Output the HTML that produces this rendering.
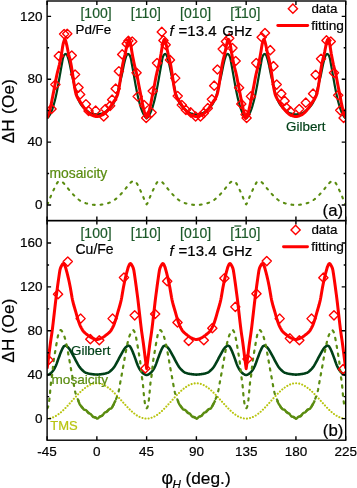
<!DOCTYPE html>
<html><head><meta charset="utf-8"><style>
html,body{margin:0;padding:0;background:#fff;width:357px;height:488px;overflow:hidden}
svg{display:block;font-family:"Liberation Sans",sans-serif;will-change:transform}
</style></head><body>
<svg width="357" height="488" viewBox="0 0 357 488">
<rect width="357" height="488" fill="#fff"/>
<defs><clipPath id="ct"><rect x="47.1" y="1.0" width="298.6" height="219.6"/></clipPath>
<clipPath id="cb"><rect x="47.1" y="220.6" width="298.6" height="219.6"/></clipPath></defs>
<g clip-path="url(#ct)" fill="none" stroke-linejoin="round">
<path d="M47.10,204.37 L47.65,203.69 L48.21,202.75 L48.76,201.43 L49.31,200.01 L49.86,198.57 L50.42,197.14 L50.97,195.77 L51.52,194.45 L52.08,193.19 L52.63,192.01 L53.18,190.85 L53.74,189.69 L54.29,188.53 L54.84,187.39 L55.39,186.24 L55.95,185.10 L56.50,184.09 L57.05,183.15 L57.61,182.30 L58.16,181.73 L58.71,181.39 L59.27,181.11 L59.82,180.96 L60.37,180.98 L60.92,181.15 L61.48,181.42 L62.03,181.73 L62.58,182.13 L63.14,182.66 L63.69,183.28 L64.24,183.93 L64.79,184.56 L65.35,185.19 L65.90,185.85 L66.45,186.53 L67.01,187.22 L67.56,187.92 L68.11,188.63 L68.67,189.33 L69.22,190.01 L69.77,190.68 L70.32,191.32 L70.88,191.95 L71.43,192.57 L71.98,193.19 L72.54,193.80 L73.09,194.40 L73.64,194.99 L74.20,195.56 L74.75,196.11 L75.30,196.64 L75.85,197.14 L76.41,197.63 L76.96,198.12 L77.51,198.61 L78.07,199.08 L78.62,199.54 L79.17,199.97 L79.72,200.38 L80.28,200.76 L80.83,201.09 L81.38,201.38 L81.94,201.65 L82.49,201.90 L83.04,202.15 L83.60,202.38 L84.15,202.60 L84.70,202.82 L85.25,203.02 L85.81,203.21 L86.36,203.38 L86.91,203.54 L87.47,203.69 L88.02,203.83 L88.57,203.95 L89.13,204.06 L89.68,204.16 L90.23,204.26 L90.78,204.35 L91.34,204.45 L91.89,204.54 L92.44,204.62 L93.00,204.70 L93.55,204.78 L94.10,204.84 L94.65,204.89 L95.21,204.94 L95.76,204.97 L96.31,204.99 L96.87,205.00 L97.42,204.99 L97.97,204.97 L98.53,204.94 L99.08,204.89 L99.63,204.84 L100.18,204.78 L100.74,204.70 L101.29,204.62 L101.84,204.54 L102.40,204.45 L102.95,204.35 L103.50,204.26 L104.06,204.16 L104.61,204.06 L105.16,203.95 L105.71,203.83 L106.27,203.69 L106.82,203.54 L107.37,203.38 L107.93,203.21 L108.48,203.02 L109.03,202.82 L109.58,202.60 L110.14,202.38 L110.69,202.15 L111.24,201.90 L111.80,201.65 L112.35,201.38 L112.90,201.09 L113.46,200.76 L114.01,200.38 L114.56,199.97 L115.11,199.54 L115.67,199.08 L116.22,198.61 L116.77,198.12 L117.33,197.63 L117.88,197.14 L118.43,196.64 L118.99,196.11 L119.54,195.56 L120.09,194.99 L120.64,194.40 L121.20,193.80 L121.75,193.19 L122.30,192.57 L122.86,191.95 L123.41,191.32 L123.96,190.68 L124.51,190.01 L125.07,189.33 L125.62,188.63 L126.17,187.92 L126.73,187.22 L127.28,186.53 L127.83,185.85 L128.39,185.19 L128.94,184.56 L129.49,183.93 L130.04,183.28 L130.60,182.66 L131.15,182.13 L131.70,181.73 L132.26,181.42 L132.81,181.15 L133.36,180.98 L133.92,180.96 L134.47,181.11 L135.02,181.39 L135.57,181.73 L136.13,182.30 L136.68,183.15 L137.23,184.09 L137.79,185.10 L138.34,186.24 L138.89,187.39 L139.44,188.53 L140.00,189.69 L140.55,190.85 L141.10,192.01 L141.66,193.19 L142.21,194.45 L142.76,195.77 L143.32,197.14 L143.87,198.57 L144.42,200.01 L144.97,201.43 L145.53,202.75 L146.08,203.69 L146.63,204.37 L147.19,203.69 L147.74,202.75 L148.29,201.43 L148.85,200.01 L149.40,198.57 L149.95,197.14 L150.50,195.77 L151.06,194.45 L151.61,193.19 L152.16,192.01 L152.72,190.85 L153.27,189.69 L153.82,188.53 L154.37,187.39 L154.93,186.24 L155.48,185.10 L156.03,184.09 L156.59,183.15 L157.14,182.30 L157.69,181.73 L158.25,181.39 L158.80,181.11 L159.35,180.96 L159.90,180.98 L160.46,181.15 L161.01,181.42 L161.56,181.73 L162.12,182.13 L162.67,182.66 L163.22,183.28 L163.78,183.93 L164.33,184.56 L164.88,185.19 L165.43,185.85 L165.99,186.53 L166.54,187.22 L167.09,187.92 L167.65,188.63 L168.20,189.33 L168.75,190.01 L169.30,190.68 L169.86,191.32 L170.41,191.95 L170.96,192.57 L171.52,193.19 L172.07,193.80 L172.62,194.40 L173.18,194.99 L173.73,195.56 L174.28,196.11 L174.83,196.64 L175.39,197.14 L175.94,197.63 L176.49,198.12 L177.05,198.61 L177.60,199.08 L178.15,199.54 L178.71,199.97 L179.26,200.38 L179.81,200.76 L180.36,201.09 L180.92,201.38 L181.47,201.65 L182.02,201.90 L182.58,202.15 L183.13,202.38 L183.68,202.60 L184.23,202.82 L184.79,203.02 L185.34,203.21 L185.89,203.38 L186.45,203.54 L187.00,203.69 L187.55,203.83 L188.11,203.95 L188.66,204.06 L189.21,204.16 L189.76,204.26 L190.32,204.35 L190.87,204.45 L191.42,204.54 L191.98,204.62 L192.53,204.70 L193.08,204.78 L193.64,204.84 L194.19,204.89 L194.74,204.94 L195.29,204.97 L195.85,204.99 L196.40,205.00 L196.95,204.99 L197.51,204.97 L198.06,204.94 L198.61,204.89 L199.16,204.84 L199.72,204.78 L200.27,204.70 L200.82,204.62 L201.38,204.54 L201.93,204.45 L202.48,204.35 L203.04,204.26 L203.59,204.16 L204.14,204.06 L204.69,203.95 L205.25,203.83 L205.80,203.69 L206.35,203.54 L206.91,203.38 L207.46,203.21 L208.01,203.02 L208.57,202.82 L209.12,202.60 L209.67,202.38 L210.22,202.15 L210.78,201.90 L211.33,201.65 L211.88,201.38 L212.44,201.09 L212.99,200.76 L213.54,200.38 L214.09,199.97 L214.65,199.54 L215.20,199.08 L215.75,198.61 L216.31,198.12 L216.86,197.63 L217.41,197.14 L217.97,196.64 L218.52,196.11 L219.07,195.56 L219.62,194.99 L220.18,194.40 L220.73,193.80 L221.28,193.19 L221.84,192.57 L222.39,191.95 L222.94,191.32 L223.50,190.68 L224.05,190.01 L224.60,189.33 L225.15,188.63 L225.71,187.92 L226.26,187.22 L226.81,186.53 L227.37,185.85 L227.92,185.19 L228.47,184.56 L229.02,183.93 L229.58,183.28 L230.13,182.66 L230.68,182.13 L231.24,181.73 L231.79,181.42 L232.34,181.15 L232.90,180.98 L233.45,180.96 L234.00,181.11 L234.55,181.39 L235.11,181.73 L235.66,182.30 L236.21,183.15 L236.77,184.09 L237.32,185.10 L237.87,186.24 L238.43,187.39 L238.98,188.53 L239.53,189.69 L240.08,190.85 L240.64,192.01 L241.19,193.19 L241.74,194.45 L242.30,195.77 L242.85,197.14 L243.40,198.57 L243.95,200.01 L244.51,201.43 L245.06,202.75 L245.61,203.69 L246.17,204.37 L246.72,203.69 L247.27,202.75 L247.83,201.43 L248.38,200.01 L248.93,198.57 L249.48,197.14 L250.04,195.77 L250.59,194.45 L251.14,193.19 L251.70,192.01 L252.25,190.85 L252.80,189.69 L253.36,188.53 L253.91,187.39 L254.46,186.24 L255.01,185.10 L255.57,184.09 L256.12,183.15 L256.67,182.30 L257.23,181.73 L257.78,181.39 L258.33,181.11 L258.88,180.96 L259.44,180.98 L259.99,181.15 L260.54,181.42 L261.10,181.73 L261.65,182.13 L262.20,182.66 L262.76,183.28 L263.31,183.93 L263.86,184.56 L264.41,185.19 L264.97,185.85 L265.52,186.53 L266.07,187.22 L266.63,187.92 L267.18,188.63 L267.73,189.33 L268.29,190.01 L268.84,190.68 L269.39,191.32 L269.94,191.95 L270.50,192.57 L271.05,193.19 L271.60,193.80 L272.16,194.40 L272.71,194.99 L273.26,195.56 L273.81,196.11 L274.37,196.64 L274.92,197.14 L275.47,197.63 L276.03,198.12 L276.58,198.61 L277.13,199.08 L277.69,199.54 L278.24,199.97 L278.79,200.38 L279.34,200.76 L279.90,201.09 L280.45,201.38 L281.00,201.65 L281.56,201.90 L282.11,202.15 L282.66,202.38 L283.22,202.60 L283.77,202.82 L284.32,203.02 L284.87,203.21 L285.43,203.38 L285.98,203.54 L286.53,203.69 L287.09,203.83 L287.64,203.95 L288.19,204.06 L288.74,204.16 L289.30,204.26 L289.85,204.35 L290.40,204.45 L290.96,204.54 L291.51,204.62 L292.06,204.70 L292.62,204.78 L293.17,204.84 L293.72,204.89 L294.27,204.94 L294.83,204.97 L295.38,204.99 L295.93,205.00 L296.49,204.99 L297.04,204.97 L297.59,204.94 L298.15,204.89 L298.70,204.84 L299.25,204.78 L299.80,204.70 L300.36,204.62 L300.91,204.54 L301.46,204.45 L302.02,204.35 L302.57,204.26 L303.12,204.16 L303.67,204.06 L304.23,203.95 L304.78,203.83 L305.33,203.69 L305.89,203.54 L306.44,203.38 L306.99,203.21 L307.55,203.02 L308.10,202.82 L308.65,202.60 L309.20,202.38 L309.76,202.15 L310.31,201.90 L310.86,201.65 L311.42,201.38 L311.97,201.09 L312.52,200.76 L313.08,200.38 L313.63,199.97 L314.18,199.54 L314.73,199.08 L315.29,198.61 L315.84,198.12 L316.39,197.63 L316.95,197.14 L317.50,196.64 L318.05,196.11 L318.60,195.56 L319.16,194.99 L319.71,194.40 L320.26,193.80 L320.82,193.19 L321.37,192.57 L321.92,191.95 L322.48,191.32 L323.03,190.68 L323.58,190.01 L324.13,189.33 L324.69,188.63 L325.24,187.92 L325.79,187.22 L326.35,186.53 L326.90,185.85 L327.45,185.19 L328.01,184.56 L328.56,183.93 L329.11,183.28 L329.66,182.66 L330.22,182.13 L330.77,181.73 L331.32,181.42 L331.88,181.15 L332.43,180.98 L332.98,180.96 L333.53,181.11 L334.09,181.39 L334.64,181.73 L335.19,182.30 L335.75,183.15 L336.30,184.09 L336.85,185.10 L337.41,186.24 L337.96,187.39 L338.51,188.53 L339.06,189.69 L339.62,190.85 L340.17,192.01 L340.72,193.19 L341.28,194.45 L341.83,195.77 L342.38,197.14 L342.94,198.57 L343.49,200.01 L344.04,201.43 L344.59,202.75 L345.15,203.69 L345.70,204.37" stroke="#5a8c10" stroke-width="2.1" stroke-linecap="round" stroke-dasharray="1.8 5.9"/>
<path d="M47.10,118.38 L47.65,117.88 L48.21,117.26 L48.76,116.54 L49.31,115.73 L49.86,114.84 L50.42,113.79 L50.97,112.60 L51.52,111.29 L52.08,109.89 L52.63,108.35 L53.18,106.64 L53.74,104.78 L54.29,102.81 L54.84,100.70 L55.39,98.39 L55.95,95.96 L56.50,93.41 L57.05,90.69 L57.61,87.85 L58.16,84.93 L58.71,81.89 L59.27,78.75 L59.82,75.61 L60.37,72.49 L60.92,69.35 L61.48,66.28 L62.03,63.23 L62.58,60.08 L63.14,57.58 L63.69,56.05 L64.24,54.98 L64.79,54.39 L65.35,54.00 L65.90,53.97 L66.45,54.44 L67.01,55.18 L67.56,56.37 L68.11,58.07 L68.67,59.95 L69.22,62.17 L69.77,64.59 L70.32,67.19 L70.88,70.04 L71.43,72.89 L71.98,75.48 L72.54,77.79 L73.09,79.97 L73.64,82.10 L74.20,84.29 L74.75,86.64 L75.30,89.16 L75.85,91.63 L76.41,93.84 L76.96,95.62 L77.51,97.22 L78.07,98.71 L78.62,100.08 L79.17,101.35 L79.72,102.49 L80.28,103.50 L80.83,104.39 L81.38,105.16 L81.94,105.87 L82.49,106.51 L83.04,107.10 L83.60,107.65 L84.15,108.17 L84.70,108.66 L85.25,109.14 L85.81,109.62 L86.36,110.10 L86.91,110.58 L87.47,111.04 L88.02,111.48 L88.57,111.90 L89.13,112.28 L89.68,112.63 L90.23,112.92 L90.78,113.17 L91.34,113.35 L91.89,113.50 L92.44,113.64 L93.00,113.77 L93.55,113.90 L94.10,114.01 L94.65,114.10 L95.21,114.18 L95.76,114.24 L96.31,114.28 L96.87,114.29 L97.42,114.28 L97.97,114.24 L98.53,114.18 L99.08,114.10 L99.63,114.01 L100.18,113.90 L100.74,113.77 L101.29,113.64 L101.84,113.50 L102.40,113.35 L102.95,113.17 L103.50,112.92 L104.06,112.63 L104.61,112.28 L105.16,111.90 L105.71,111.48 L106.27,111.04 L106.82,110.58 L107.37,110.10 L107.93,109.62 L108.48,109.14 L109.03,108.66 L109.58,108.17 L110.14,107.65 L110.69,107.10 L111.24,106.51 L111.80,105.87 L112.35,105.16 L112.90,104.39 L113.46,103.50 L114.01,102.49 L114.56,101.35 L115.11,100.08 L115.67,98.71 L116.22,97.22 L116.77,95.62 L117.33,93.84 L117.88,91.63 L118.43,89.16 L118.99,86.64 L119.54,84.29 L120.09,82.10 L120.64,79.97 L121.20,77.79 L121.75,75.48 L122.30,72.89 L122.86,70.04 L123.41,67.19 L123.96,64.59 L124.51,62.17 L125.07,59.95 L125.62,58.07 L126.17,56.37 L126.73,55.18 L127.28,54.44 L127.83,53.97 L128.39,54.00 L128.94,54.39 L129.49,54.98 L130.04,56.05 L130.60,57.58 L131.15,60.08 L131.70,63.23 L132.26,66.28 L132.81,69.35 L133.36,72.49 L133.92,75.61 L134.47,78.75 L135.02,81.89 L135.57,84.93 L136.13,87.85 L136.68,90.69 L137.23,93.41 L137.79,95.96 L138.34,98.39 L138.89,100.70 L139.44,102.81 L140.00,104.78 L140.55,106.64 L141.10,108.35 L141.66,109.89 L142.21,111.29 L142.76,112.60 L143.32,113.79 L143.87,114.84 L144.42,115.73 L144.97,116.54 L145.53,117.26 L146.08,117.88 L146.63,118.38 L147.19,117.88 L147.74,117.26 L148.29,116.54 L148.85,115.73 L149.40,114.84 L149.95,113.79 L150.50,112.60 L151.06,111.29 L151.61,109.89 L152.16,108.35 L152.72,106.64 L153.27,104.78 L153.82,102.81 L154.37,100.70 L154.93,98.39 L155.48,95.96 L156.03,93.41 L156.59,90.69 L157.14,87.85 L157.69,84.93 L158.25,81.89 L158.80,78.75 L159.35,75.61 L159.90,72.49 L160.46,69.35 L161.01,66.28 L161.56,63.23 L162.12,60.08 L162.67,57.58 L163.22,56.05 L163.78,54.98 L164.33,54.39 L164.88,54.00 L165.43,53.97 L165.99,54.44 L166.54,55.18 L167.09,56.37 L167.65,58.07 L168.20,59.95 L168.75,62.17 L169.30,64.59 L169.86,67.19 L170.41,70.04 L170.96,72.89 L171.52,75.48 L172.07,77.79 L172.62,79.97 L173.18,82.10 L173.73,84.29 L174.28,86.64 L174.83,89.16 L175.39,91.63 L175.94,93.84 L176.49,95.62 L177.05,97.22 L177.60,98.71 L178.15,100.08 L178.71,101.35 L179.26,102.49 L179.81,103.50 L180.36,104.39 L180.92,105.16 L181.47,105.87 L182.02,106.51 L182.58,107.10 L183.13,107.65 L183.68,108.17 L184.23,108.66 L184.79,109.14 L185.34,109.62 L185.89,110.10 L186.45,110.58 L187.00,111.04 L187.55,111.48 L188.11,111.90 L188.66,112.28 L189.21,112.63 L189.76,112.92 L190.32,113.17 L190.87,113.35 L191.42,113.50 L191.98,113.64 L192.53,113.77 L193.08,113.90 L193.64,114.01 L194.19,114.10 L194.74,114.18 L195.29,114.24 L195.85,114.28 L196.40,114.29 L196.95,114.28 L197.51,114.24 L198.06,114.18 L198.61,114.10 L199.16,114.01 L199.72,113.90 L200.27,113.77 L200.82,113.64 L201.38,113.50 L201.93,113.35 L202.48,113.17 L203.04,112.92 L203.59,112.63 L204.14,112.28 L204.69,111.90 L205.25,111.48 L205.80,111.04 L206.35,110.58 L206.91,110.10 L207.46,109.62 L208.01,109.14 L208.57,108.66 L209.12,108.17 L209.67,107.65 L210.22,107.10 L210.78,106.51 L211.33,105.87 L211.88,105.16 L212.44,104.39 L212.99,103.50 L213.54,102.49 L214.09,101.35 L214.65,100.08 L215.20,98.71 L215.75,97.22 L216.31,95.62 L216.86,93.84 L217.41,91.63 L217.97,89.16 L218.52,86.64 L219.07,84.29 L219.62,82.10 L220.18,79.97 L220.73,77.79 L221.28,75.48 L221.84,72.89 L222.39,70.04 L222.94,67.19 L223.50,64.59 L224.05,62.17 L224.60,59.95 L225.15,58.07 L225.71,56.37 L226.26,55.18 L226.81,54.44 L227.37,53.97 L227.92,54.00 L228.47,54.39 L229.02,54.98 L229.58,56.05 L230.13,57.58 L230.68,60.08 L231.24,63.23 L231.79,66.28 L232.34,69.35 L232.90,72.49 L233.45,75.61 L234.00,78.75 L234.55,81.89 L235.11,84.93 L235.66,87.85 L236.21,90.69 L236.77,93.41 L237.32,95.96 L237.87,98.39 L238.43,100.70 L238.98,102.81 L239.53,104.78 L240.08,106.64 L240.64,108.35 L241.19,109.89 L241.74,111.29 L242.30,112.60 L242.85,113.79 L243.40,114.84 L243.95,115.73 L244.51,116.54 L245.06,117.26 L245.61,117.88 L246.17,118.38 L246.72,117.88 L247.27,117.26 L247.83,116.54 L248.38,115.73 L248.93,114.84 L249.48,113.79 L250.04,112.60 L250.59,111.29 L251.14,109.89 L251.70,108.35 L252.25,106.64 L252.80,104.78 L253.36,102.81 L253.91,100.70 L254.46,98.39 L255.01,95.96 L255.57,93.41 L256.12,90.69 L256.67,87.85 L257.23,84.93 L257.78,81.89 L258.33,78.75 L258.88,75.61 L259.44,72.49 L259.99,69.35 L260.54,66.28 L261.10,63.23 L261.65,60.08 L262.20,57.58 L262.76,56.05 L263.31,54.98 L263.86,54.39 L264.41,54.00 L264.97,53.97 L265.52,54.44 L266.07,55.18 L266.63,56.37 L267.18,58.07 L267.73,59.95 L268.29,62.17 L268.84,64.59 L269.39,67.19 L269.94,70.04 L270.50,72.89 L271.05,75.48 L271.60,77.79 L272.16,79.97 L272.71,82.10 L273.26,84.29 L273.81,86.64 L274.37,89.16 L274.92,91.63 L275.47,93.84 L276.03,95.62 L276.58,97.22 L277.13,98.71 L277.69,100.08 L278.24,101.35 L278.79,102.49 L279.34,103.50 L279.90,104.39 L280.45,105.16 L281.00,105.87 L281.56,106.51 L282.11,107.10 L282.66,107.65 L283.22,108.17 L283.77,108.66 L284.32,109.14 L284.87,109.62 L285.43,110.10 L285.98,110.58 L286.53,111.04 L287.09,111.48 L287.64,111.90 L288.19,112.28 L288.74,112.63 L289.30,112.92 L289.85,113.17 L290.40,113.35 L290.96,113.50 L291.51,113.64 L292.06,113.77 L292.62,113.90 L293.17,114.01 L293.72,114.10 L294.27,114.18 L294.83,114.24 L295.38,114.28 L295.93,114.29 L296.49,114.28 L297.04,114.24 L297.59,114.18 L298.15,114.10 L298.70,114.01 L299.25,113.90 L299.80,113.77 L300.36,113.64 L300.91,113.50 L301.46,113.35 L302.02,113.17 L302.57,112.92 L303.12,112.63 L303.67,112.28 L304.23,111.90 L304.78,111.48 L305.33,111.04 L305.89,110.58 L306.44,110.10 L306.99,109.62 L307.55,109.14 L308.10,108.66 L308.65,108.17 L309.20,107.65 L309.76,107.10 L310.31,106.51 L310.86,105.87 L311.42,105.16 L311.97,104.39 L312.52,103.50 L313.08,102.49 L313.63,101.35 L314.18,100.08 L314.73,98.71 L315.29,97.22 L315.84,95.62 L316.39,93.84 L316.95,91.63 L317.50,89.16 L318.05,86.64 L318.60,84.29 L319.16,82.10 L319.71,79.97 L320.26,77.79 L320.82,75.48 L321.37,72.89 L321.92,70.04 L322.48,67.19 L323.03,64.59 L323.58,62.17 L324.13,59.95 L324.69,58.07 L325.24,56.37 L325.79,55.18 L326.35,54.44 L326.90,53.97 L327.45,54.00 L328.01,54.39 L328.56,54.98 L329.11,56.05 L329.66,57.58 L330.22,60.08 L330.77,63.23 L331.32,66.28 L331.88,69.35 L332.43,72.49 L332.98,75.61 L333.53,78.75 L334.09,81.89 L334.64,84.93 L335.19,87.85 L335.75,90.69 L336.30,93.41 L336.85,95.96 L337.41,98.39 L337.96,100.70 L338.51,102.81 L339.06,104.78 L339.62,106.64 L340.17,108.35 L340.72,109.89 L341.28,111.29 L341.83,112.60 L342.38,113.79 L342.94,114.84 L343.49,115.73 L344.04,116.54 L344.59,117.26 L345.15,117.88 L345.70,118.38" stroke="#004018" stroke-width="2.2"/>
<path d="M47.10,117.75 L47.65,116.62 L48.21,115.25 L48.76,113.70 L49.31,111.95 L49.86,109.89 L50.42,107.60 L50.97,105.17 L51.52,102.52 L52.08,99.63 L52.63,96.67 L53.18,93.84 L53.74,91.08 L54.29,88.33 L54.84,85.52 L55.39,82.56 L55.95,79.52 L56.50,76.60 L57.05,74.00 L57.61,71.71 L58.16,69.57 L58.71,67.42 L59.27,65.08 L59.82,62.53 L60.37,59.83 L60.92,57.01 L61.48,54.08 L62.03,50.69 L62.58,47.04 L63.14,43.96 L63.69,41.93 L64.24,40.24 L64.79,39.33 L65.35,39.88 L65.90,41.71 L66.45,43.86 L67.01,46.18 L67.56,48.93 L68.11,51.73 L68.67,54.26 L69.22,56.50 L69.77,58.67 L70.32,60.95 L70.88,63.51 L71.43,66.55 L71.98,69.97 L72.54,73.55 L73.09,77.24 L73.64,81.24 L74.20,85.01 L74.75,88.13 L75.30,91.03 L75.85,93.49 L76.41,95.25 L76.96,96.58 L77.51,97.71 L78.07,98.70 L78.62,99.58 L79.17,100.39 L79.72,101.17 L80.28,101.97 L80.83,102.81 L81.38,103.71 L81.94,104.61 L82.49,105.50 L83.04,106.36 L83.60,107.20 L84.15,107.98 L84.70,108.70 L85.25,109.36 L85.81,110.00 L86.36,110.63 L86.91,111.25 L87.47,111.85 L88.02,112.42 L88.57,112.96 L89.13,113.46 L89.68,113.91 L90.23,114.31 L90.78,114.65 L91.34,114.92 L91.89,115.16 L92.44,115.39 L93.00,115.61 L93.55,115.82 L94.10,116.00 L94.65,116.17 L95.21,116.30 L95.76,116.40 L96.31,116.47 L96.87,116.49 L97.42,116.47 L97.97,116.40 L98.53,116.30 L99.08,116.17 L99.63,116.00 L100.18,115.82 L100.74,115.61 L101.29,115.39 L101.84,115.16 L102.40,114.92 L102.95,114.65 L103.50,114.31 L104.06,113.91 L104.61,113.46 L105.16,112.96 L105.71,112.42 L106.27,111.85 L106.82,111.25 L107.37,110.63 L107.93,110.00 L108.48,109.36 L109.03,108.70 L109.58,107.98 L110.14,107.20 L110.69,106.36 L111.24,105.50 L111.80,104.61 L112.35,103.71 L112.90,102.81 L113.46,101.97 L114.01,101.17 L114.56,100.39 L115.11,99.58 L115.67,98.70 L116.22,97.71 L116.77,96.58 L117.33,95.25 L117.88,93.49 L118.43,91.03 L118.99,88.13 L119.54,85.01 L120.09,81.24 L120.64,77.24 L121.20,73.55 L121.75,69.97 L122.30,66.55 L122.86,63.51 L123.41,60.95 L123.96,58.67 L124.51,56.50 L125.07,54.26 L125.62,51.73 L126.17,48.93 L126.73,46.18 L127.28,43.86 L127.83,41.71 L128.39,39.88 L128.94,39.33 L129.49,40.24 L130.04,41.93 L130.60,43.96 L131.15,47.04 L131.70,50.69 L132.26,54.08 L132.81,57.01 L133.36,59.83 L133.92,62.53 L134.47,65.08 L135.02,67.42 L135.57,69.57 L136.13,71.71 L136.68,74.00 L137.23,76.60 L137.79,79.52 L138.34,82.56 L138.89,85.52 L139.44,88.33 L140.00,91.08 L140.55,93.84 L141.10,96.67 L141.66,99.63 L142.21,102.52 L142.76,105.17 L143.32,107.60 L143.87,109.89 L144.42,111.95 L144.97,113.70 L145.53,115.25 L146.08,116.62 L146.63,117.75 L147.19,116.62 L147.74,115.25 L148.29,113.70 L148.85,111.95 L149.40,109.89 L149.95,107.60 L150.50,105.17 L151.06,102.52 L151.61,99.63 L152.16,96.67 L152.72,93.84 L153.27,91.08 L153.82,88.33 L154.37,85.52 L154.93,82.56 L155.48,79.52 L156.03,76.60 L156.59,74.00 L157.14,71.71 L157.69,69.57 L158.25,67.42 L158.80,65.08 L159.35,62.53 L159.90,59.83 L160.46,57.01 L161.01,54.08 L161.56,50.69 L162.12,47.04 L162.67,43.96 L163.22,41.93 L163.78,40.24 L164.33,39.33 L164.88,39.88 L165.43,41.71 L165.99,43.86 L166.54,46.18 L167.09,48.93 L167.65,51.73 L168.20,54.26 L168.75,56.50 L169.30,58.67 L169.86,60.95 L170.41,63.51 L170.96,66.55 L171.52,69.97 L172.07,73.55 L172.62,77.24 L173.18,81.24 L173.73,85.01 L174.28,88.13 L174.83,91.03 L175.39,93.49 L175.94,95.25 L176.49,96.58 L177.05,97.71 L177.60,98.70 L178.15,99.58 L178.71,100.39 L179.26,101.17 L179.81,101.97 L180.36,102.81 L180.92,103.71 L181.47,104.61 L182.02,105.50 L182.58,106.36 L183.13,107.20 L183.68,107.98 L184.23,108.70 L184.79,109.36 L185.34,110.00 L185.89,110.63 L186.45,111.25 L187.00,111.85 L187.55,112.42 L188.11,112.96 L188.66,113.46 L189.21,113.91 L189.76,114.31 L190.32,114.65 L190.87,114.92 L191.42,115.16 L191.98,115.39 L192.53,115.61 L193.08,115.82 L193.64,116.00 L194.19,116.17 L194.74,116.30 L195.29,116.40 L195.85,116.47 L196.40,116.49 L196.95,116.47 L197.51,116.40 L198.06,116.30 L198.61,116.17 L199.16,116.00 L199.72,115.82 L200.27,115.61 L200.82,115.39 L201.38,115.16 L201.93,114.92 L202.48,114.65 L203.04,114.31 L203.59,113.91 L204.14,113.46 L204.69,112.96 L205.25,112.42 L205.80,111.85 L206.35,111.25 L206.91,110.63 L207.46,110.00 L208.01,109.36 L208.57,108.70 L209.12,107.98 L209.67,107.20 L210.22,106.36 L210.78,105.50 L211.33,104.61 L211.88,103.71 L212.44,102.81 L212.99,101.97 L213.54,101.17 L214.09,100.39 L214.65,99.58 L215.20,98.70 L215.75,97.71 L216.31,96.58 L216.86,95.25 L217.41,93.49 L217.97,91.03 L218.52,88.13 L219.07,85.01 L219.62,81.24 L220.18,77.24 L220.73,73.55 L221.28,69.97 L221.84,66.55 L222.39,63.51 L222.94,60.95 L223.50,58.67 L224.05,56.50 L224.60,54.26 L225.15,51.73 L225.71,48.93 L226.26,46.18 L226.81,43.86 L227.37,41.71 L227.92,39.88 L228.47,39.33 L229.02,40.24 L229.58,41.93 L230.13,43.96 L230.68,47.04 L231.24,50.69 L231.79,54.08 L232.34,57.01 L232.90,59.83 L233.45,62.53 L234.00,65.08 L234.55,67.42 L235.11,69.57 L235.66,71.71 L236.21,74.00 L236.77,76.60 L237.32,79.52 L237.87,82.56 L238.43,85.52 L238.98,88.33 L239.53,91.08 L240.08,93.84 L240.64,96.67 L241.19,99.63 L241.74,102.52 L242.30,105.17 L242.85,107.60 L243.40,109.89 L243.95,111.95 L244.51,113.70 L245.06,115.25 L245.61,116.62 L246.17,117.75 L246.72,116.62 L247.27,115.25 L247.83,113.70 L248.38,111.95 L248.93,109.89 L249.48,107.60 L250.04,105.17 L250.59,102.52 L251.14,99.63 L251.70,96.67 L252.25,93.84 L252.80,91.08 L253.36,88.33 L253.91,85.52 L254.46,82.56 L255.01,79.52 L255.57,76.60 L256.12,74.00 L256.67,71.71 L257.23,69.57 L257.78,67.42 L258.33,65.08 L258.88,62.53 L259.44,59.83 L259.99,57.01 L260.54,54.08 L261.10,50.69 L261.65,47.04 L262.20,43.96 L262.76,41.93 L263.31,40.24 L263.86,39.33 L264.41,39.88 L264.97,41.71 L265.52,43.86 L266.07,46.18 L266.63,48.93 L267.18,51.73 L267.73,54.26 L268.29,56.50 L268.84,58.67 L269.39,60.95 L269.94,63.51 L270.50,66.55 L271.05,69.97 L271.60,73.55 L272.16,77.24 L272.71,81.24 L273.26,85.01 L273.81,88.13 L274.37,91.03 L274.92,93.49 L275.47,95.25 L276.03,96.58 L276.58,97.71 L277.13,98.70 L277.69,99.58 L278.24,100.39 L278.79,101.17 L279.34,101.97 L279.90,102.81 L280.45,103.71 L281.00,104.61 L281.56,105.50 L282.11,106.36 L282.66,107.20 L283.22,107.98 L283.77,108.70 L284.32,109.36 L284.87,110.00 L285.43,110.63 L285.98,111.25 L286.53,111.85 L287.09,112.42 L287.64,112.96 L288.19,113.46 L288.74,113.91 L289.30,114.31 L289.85,114.65 L290.40,114.92 L290.96,115.16 L291.51,115.39 L292.06,115.61 L292.62,115.82 L293.17,116.00 L293.72,116.17 L294.27,116.30 L294.83,116.40 L295.38,116.47 L295.93,116.49 L296.49,116.47 L297.04,116.40 L297.59,116.30 L298.15,116.17 L298.70,116.00 L299.25,115.82 L299.80,115.61 L300.36,115.39 L300.91,115.16 L301.46,114.92 L302.02,114.65 L302.57,114.31 L303.12,113.91 L303.67,113.46 L304.23,112.96 L304.78,112.42 L305.33,111.85 L305.89,111.25 L306.44,110.63 L306.99,110.00 L307.55,109.36 L308.10,108.70 L308.65,107.98 L309.20,107.20 L309.76,106.36 L310.31,105.50 L310.86,104.61 L311.42,103.71 L311.97,102.81 L312.52,101.97 L313.08,101.17 L313.63,100.39 L314.18,99.58 L314.73,98.70 L315.29,97.71 L315.84,96.58 L316.39,95.25 L316.95,93.49 L317.50,91.03 L318.05,88.13 L318.60,85.01 L319.16,81.24 L319.71,77.24 L320.26,73.55 L320.82,69.97 L321.37,66.55 L321.92,63.51 L322.48,60.95 L323.03,58.67 L323.58,56.50 L324.13,54.26 L324.69,51.73 L325.24,48.93 L325.79,46.18 L326.35,43.86 L326.90,41.71 L327.45,39.88 L328.01,39.33 L328.56,40.24 L329.11,41.93 L329.66,43.96 L330.22,47.04 L330.77,50.69 L331.32,54.08 L331.88,57.01 L332.43,59.83 L332.98,62.53 L333.53,65.08 L334.09,67.42 L334.64,69.57 L335.19,71.71 L335.75,74.00 L336.30,76.60 L336.85,79.52 L337.41,82.56 L337.96,85.52 L338.51,88.33 L339.06,91.08 L339.62,93.84 L340.17,96.67 L340.72,99.63 L341.28,102.52 L341.83,105.17 L342.38,107.60 L342.94,109.89 L343.49,111.95 L344.04,113.70 L344.59,115.25 L345.15,116.62 L345.70,117.75" stroke="#ff0000" stroke-width="3"/>
<g stroke="#ff0000" stroke-width="1.4"><path d="M51.52 104.35L56.12 108.95L51.52 113.55L46.92 108.95Z"/>
<path d="M55.39 79.98L59.99 84.58L55.39 89.18L50.79 84.58Z"/>
<path d="M58.82 51.37L63.42 55.97L58.82 60.57L54.22 55.97Z"/>
<path d="M64.13 29.51L68.73 34.11L64.13 38.71L59.53 34.11Z"/>
<path d="M67.23 29.20L71.83 33.80L67.23 38.40L62.63 33.80Z"/>
<path d="M71.76 50.89L76.36 55.49L71.76 60.09L67.16 55.49Z"/>
<path d="M75.08 69.92L79.68 74.52L75.08 79.12L70.48 74.52Z"/>
<path d="M78.51 82.97L83.11 87.57L78.51 92.17L73.91 87.57Z"/>
<path d="M80.17 89.88L84.77 94.48L80.17 99.08L75.57 94.48Z"/>
<path d="M85.92 99.63L90.52 104.23L85.92 108.83L81.32 104.23Z"/>
<path d="M88.57 106.39L93.17 110.99L88.57 115.59L83.97 110.99Z"/>
<path d="M95.65 106.08L100.25 110.67L95.65 115.27L91.05 110.67Z"/>
<path d="M103.72 111.89L108.32 116.49L103.72 121.09L99.12 116.49Z"/>
<path d="M105.38 104.50L109.98 109.10L105.38 113.70L100.78 109.10Z"/>
<path d="M110.14 101.20L114.74 105.80L110.14 110.40L105.54 105.80Z"/>
<path d="M112.13 95.07L116.73 99.67L112.13 104.27L107.53 99.67Z"/>
<path d="M115.67 84.07L120.27 88.67L115.67 93.27L111.07 88.67Z"/>
<path d="M118.87 66.62L123.47 71.22L118.87 75.82L114.27 71.22Z"/>
<path d="M122.19 49.79L126.79 54.39L122.19 58.99L117.59 54.39Z"/>
<path d="M126.73 39.10L131.33 43.70L126.73 48.30L122.13 43.70Z"/>
<path d="M128.39 36.27L132.99 40.87L128.39 45.47L123.79 40.87Z"/>
<path d="M132.26 36.90L136.86 41.50L132.26 46.10L127.66 41.50Z"/>
<path d="M136.57 68.19L141.17 72.79L136.57 77.39L131.97 72.79Z"/>
<path d="M137.68 91.93L142.28 96.53L137.68 101.13L133.08 96.53Z"/>
<path d="M144.09 100.42L148.69 105.02L144.09 109.62L139.49 105.02Z"/>
<path d="M146.19 113.31L150.79 117.91L146.19 122.51L141.59 117.91Z"/>
<path d="M151.61 107.96L156.21 112.56L151.61 117.16L147.01 112.56Z"/>
<path d="M152.72 86.42L157.32 91.02L152.72 95.62L148.12 91.02Z"/>
<path d="M157.03 58.44L161.63 63.04L157.03 67.64L152.43 63.04Z"/>
<path d="M161.78 27.31L166.38 31.91L161.78 36.51L157.18 31.91Z"/>
<path d="M163.44 35.80L168.04 40.40L163.44 45.00L158.84 40.40Z"/>
<path d="M165.66 40.20L170.26 44.80L165.66 49.40L161.06 44.80Z"/>
<path d="M169.97 55.30L174.57 59.90L169.97 64.50L165.37 59.90Z"/>
<path d="M175.28 73.53L179.88 78.13L175.28 82.73L170.68 78.13Z"/>
<path d="M177.71 91.45L182.31 96.05L177.71 100.65L173.11 96.05Z"/>
<path d="M181.80 100.42L186.40 105.02L181.80 109.62L177.20 105.02Z"/>
<path d="M185.89 105.29L190.49 109.89L185.89 114.49L181.29 109.89Z"/>
<path d="M190.65 107.80L195.25 112.40L190.65 117.00L186.05 112.40Z"/>
<path d="M195.63 111.89L200.23 116.49L195.63 121.09L191.03 116.49Z"/>
<path d="M200.49 111.89L205.09 116.49L200.49 121.09L195.89 116.49Z"/>
<path d="M203.70 108.59L208.30 113.19L203.70 117.79L199.10 113.19Z"/>
<path d="M207.79 103.56L212.39 108.16L207.79 112.76L203.19 108.16Z"/>
<path d="M211.88 94.76L216.48 99.36L211.88 103.96L207.28 99.36Z"/>
<path d="M214.21 81.08L218.81 85.68L214.21 90.28L209.61 85.68Z"/>
<path d="M217.41 64.89L222.01 69.49L217.41 74.09L212.81 69.49Z"/>
<path d="M222.72 44.45L227.32 49.05L222.72 53.65L218.12 49.05Z"/>
<path d="M225.93 36.90L230.53 41.50L225.93 46.10L221.33 41.50Z"/>
<path d="M229.25 33.76L233.85 38.36L229.25 42.96L224.65 38.36Z"/>
<path d="M232.45 43.51L237.05 48.11L232.45 52.71L227.85 48.11Z"/>
<path d="M235.66 56.40L240.26 61.00L235.66 65.60L231.06 61.00Z"/>
<path d="M239.09 83.12L243.69 87.72L239.09 92.32L234.49 87.72Z"/>
<path d="M241.30 99.32L245.90 103.92L241.30 108.52L236.70 103.92Z"/>
<path d="M245.61 110.01L250.21 114.61L245.61 119.21L241.01 114.61Z"/>
<path d="M246.61 113.31L251.21 117.91L246.61 122.51L242.01 117.91Z"/>
<path d="M250.92 91.77L255.52 96.37L250.92 100.97L246.32 96.37Z"/>
<path d="M256.23 58.44L260.83 63.04L256.23 67.64L251.63 63.04Z"/>
<path d="M261.65 32.66L266.25 37.26L261.65 41.86L257.05 37.26Z"/>
<path d="M264.97 28.41L269.57 33.01L264.97 37.61L260.37 33.01Z"/>
<path d="M270.28 45.55L274.88 50.15L270.28 54.75L265.68 50.15Z"/>
<path d="M273.48 61.59L278.08 66.19L273.48 70.79L268.88 66.19Z"/>
<path d="M276.69 79.98L281.29 84.58L276.69 89.18L272.09 84.58Z"/>
<path d="M281.34 89.10L285.94 93.70L281.34 98.30L276.74 93.70Z"/>
<path d="M284.65 96.33L289.25 100.93L284.65 105.53L280.05 100.93Z"/>
<path d="M286.31 102.93L290.91 107.53L286.31 112.13L281.71 107.53Z"/>
<path d="M290.40 106.86L295.00 111.46L290.40 116.06L285.80 111.46Z"/>
<path d="M299.25 104.50L303.85 109.10L299.25 113.70L294.65 109.10Z"/>
<path d="M305.78 98.06L310.38 102.66L305.78 107.26L301.18 102.66Z"/>
<path d="M313.08 89.10L317.68 93.70L313.08 98.30L308.48 93.70Z"/>
<path d="M315.62 70.23L320.22 74.83L315.62 79.43L311.02 74.83Z"/>
<path d="M321.04 54.20L325.64 58.80L321.04 63.40L316.44 58.80Z"/>
<path d="M326.46 35.80L331.06 40.40L326.46 45.00L321.86 40.40Z"/>
<path d="M330.77 36.90L335.37 41.50L330.77 46.10L326.17 41.50Z"/>
<path d="M333.98 68.19L338.58 72.79L333.98 77.39L329.38 72.79Z"/>
<path d="M338.18 90.67L342.78 95.27L338.18 99.87L333.58 95.27Z"/>
<path d="M340.28 105.76L344.88 110.36L340.28 114.96L335.68 110.36Z"/>
<path d="M343.60 113.31L348.20 117.91L343.60 122.51L339.00 117.91Z"/></g>
</g>
<g clip-path="url(#cb)" fill="none" stroke-linejoin="round">
<path d="M47.10,418.60 L47.65,418.59 L48.21,418.56 L48.76,418.50 L49.31,418.43 L49.86,418.33 L50.42,418.21 L50.97,418.08 L51.52,417.92 L52.08,417.74 L52.63,417.53 L53.18,417.31 L53.74,417.07 L54.29,416.81 L54.84,416.53 L55.39,416.23 L55.95,415.92 L56.50,415.58 L57.05,415.23 L57.61,414.85 L58.16,414.47 L58.71,414.06 L59.27,413.64 L59.82,413.20 L60.37,412.75 L60.92,412.29 L61.48,411.81 L62.03,411.32 L62.58,410.81 L63.14,410.29 L63.69,409.77 L64.24,409.23 L64.79,408.68 L65.35,408.12 L65.90,407.55 L66.45,406.97 L67.01,406.39 L67.56,405.80 L68.11,405.20 L68.67,404.60 L69.22,404.00 L69.77,403.39 L70.32,402.78 L70.88,402.16 L71.43,401.55 L71.98,400.93 L72.54,400.31 L73.09,399.70 L73.64,399.08 L74.20,398.47 L74.75,397.86 L75.30,397.26 L75.85,396.66 L76.41,396.06 L76.96,395.47 L77.51,394.89 L78.07,394.31 L78.62,393.74 L79.17,393.18 L79.72,392.63 L80.28,392.10 L80.83,391.57 L81.38,391.05 L81.94,390.54 L82.49,390.05 L83.04,389.57 L83.60,389.11 L84.15,388.66 L84.70,388.22 L85.25,387.80 L85.81,387.39 L86.36,387.01 L86.91,386.64 L87.47,386.28 L88.02,385.95 L88.57,385.63 L89.13,385.33 L89.68,385.05 L90.23,384.79 L90.78,384.55 L91.34,384.33 L91.89,384.13 L92.44,383.94 L93.00,383.79 L93.55,383.65 L94.10,383.53 L94.65,383.43 L95.21,383.36 L95.76,383.30 L96.31,383.27 L96.87,383.26 L97.42,383.27 L97.97,383.30 L98.53,383.36 L99.08,383.43 L99.63,383.53 L100.18,383.65 L100.74,383.79 L101.29,383.94 L101.84,384.13 L102.40,384.33 L102.95,384.55 L103.50,384.79 L104.06,385.05 L104.61,385.33 L105.16,385.63 L105.71,385.95 L106.27,386.28 L106.82,386.64 L107.37,387.01 L107.93,387.39 L108.48,387.80 L109.03,388.22 L109.58,388.66 L110.14,389.11 L110.69,389.57 L111.24,390.05 L111.80,390.54 L112.35,391.05 L112.90,391.57 L113.46,392.10 L114.01,392.63 L114.56,393.18 L115.11,393.74 L115.67,394.31 L116.22,394.89 L116.77,395.47 L117.33,396.06 L117.88,396.66 L118.43,397.26 L118.99,397.86 L119.54,398.47 L120.09,399.08 L120.64,399.70 L121.20,400.31 L121.75,400.93 L122.30,401.55 L122.86,402.16 L123.41,402.78 L123.96,403.39 L124.51,404.00 L125.07,404.60 L125.62,405.20 L126.17,405.80 L126.73,406.39 L127.28,406.97 L127.83,407.55 L128.39,408.12 L128.94,408.68 L129.49,409.23 L130.04,409.77 L130.60,410.29 L131.15,410.81 L131.70,411.32 L132.26,411.81 L132.81,412.29 L133.36,412.75 L133.92,413.20 L134.47,413.64 L135.02,414.06 L135.57,414.47 L136.13,414.85 L136.68,415.23 L137.23,415.58 L137.79,415.92 L138.34,416.23 L138.89,416.53 L139.44,416.81 L140.00,417.07 L140.55,417.31 L141.10,417.53 L141.66,417.74 L142.21,417.92 L142.76,418.08 L143.32,418.21 L143.87,418.33 L144.42,418.43 L144.97,418.50 L145.53,418.56 L146.08,418.59 L146.63,418.60 L147.19,418.59 L147.74,418.56 L148.29,418.50 L148.85,418.43 L149.40,418.33 L149.95,418.21 L150.50,418.08 L151.06,417.92 L151.61,417.74 L152.16,417.53 L152.72,417.31 L153.27,417.07 L153.82,416.81 L154.37,416.53 L154.93,416.23 L155.48,415.92 L156.03,415.58 L156.59,415.23 L157.14,414.85 L157.69,414.47 L158.25,414.06 L158.80,413.64 L159.35,413.20 L159.90,412.75 L160.46,412.29 L161.01,411.81 L161.56,411.32 L162.12,410.81 L162.67,410.29 L163.22,409.77 L163.78,409.23 L164.33,408.68 L164.88,408.12 L165.43,407.55 L165.99,406.97 L166.54,406.39 L167.09,405.80 L167.65,405.20 L168.20,404.60 L168.75,404.00 L169.30,403.39 L169.86,402.78 L170.41,402.16 L170.96,401.55 L171.52,400.93 L172.07,400.31 L172.62,399.70 L173.18,399.08 L173.73,398.47 L174.28,397.86 L174.83,397.26 L175.39,396.66 L175.94,396.06 L176.49,395.47 L177.05,394.89 L177.60,394.31 L178.15,393.74 L178.71,393.18 L179.26,392.63 L179.81,392.10 L180.36,391.57 L180.92,391.05 L181.47,390.54 L182.02,390.05 L182.58,389.57 L183.13,389.11 L183.68,388.66 L184.23,388.22 L184.79,387.80 L185.34,387.39 L185.89,387.01 L186.45,386.64 L187.00,386.28 L187.55,385.95 L188.11,385.63 L188.66,385.33 L189.21,385.05 L189.76,384.79 L190.32,384.55 L190.87,384.33 L191.42,384.13 L191.98,383.94 L192.53,383.79 L193.08,383.65 L193.64,383.53 L194.19,383.43 L194.74,383.36 L195.29,383.30 L195.85,383.27 L196.40,383.26 L196.95,383.27 L197.51,383.30 L198.06,383.36 L198.61,383.43 L199.16,383.53 L199.72,383.65 L200.27,383.79 L200.82,383.94 L201.38,384.13 L201.93,384.33 L202.48,384.55 L203.04,384.79 L203.59,385.05 L204.14,385.33 L204.69,385.63 L205.25,385.95 L205.80,386.28 L206.35,386.64 L206.91,387.01 L207.46,387.39 L208.01,387.80 L208.57,388.22 L209.12,388.66 L209.67,389.11 L210.22,389.57 L210.78,390.05 L211.33,390.54 L211.88,391.05 L212.44,391.57 L212.99,392.10 L213.54,392.63 L214.09,393.18 L214.65,393.74 L215.20,394.31 L215.75,394.89 L216.31,395.47 L216.86,396.06 L217.41,396.66 L217.97,397.26 L218.52,397.86 L219.07,398.47 L219.62,399.08 L220.18,399.70 L220.73,400.31 L221.28,400.93 L221.84,401.55 L222.39,402.16 L222.94,402.78 L223.50,403.39 L224.05,404.00 L224.60,404.60 L225.15,405.20 L225.71,405.80 L226.26,406.39 L226.81,406.97 L227.37,407.55 L227.92,408.12 L228.47,408.68 L229.02,409.23 L229.58,409.77 L230.13,410.29 L230.68,410.81 L231.24,411.32 L231.79,411.81 L232.34,412.29 L232.90,412.75 L233.45,413.20 L234.00,413.64 L234.55,414.06 L235.11,414.47 L235.66,414.85 L236.21,415.23 L236.77,415.58 L237.32,415.92 L237.87,416.23 L238.43,416.53 L238.98,416.81 L239.53,417.07 L240.08,417.31 L240.64,417.53 L241.19,417.74 L241.74,417.92 L242.30,418.08 L242.85,418.21 L243.40,418.33 L243.95,418.43 L244.51,418.50 L245.06,418.56 L245.61,418.59 L246.17,418.60 L246.72,418.59 L247.27,418.56 L247.83,418.50 L248.38,418.43 L248.93,418.33 L249.48,418.21 L250.04,418.08 L250.59,417.92 L251.14,417.74 L251.70,417.53 L252.25,417.31 L252.80,417.07 L253.36,416.81 L253.91,416.53 L254.46,416.23 L255.01,415.92 L255.57,415.58 L256.12,415.23 L256.67,414.85 L257.23,414.47 L257.78,414.06 L258.33,413.64 L258.88,413.20 L259.44,412.75 L259.99,412.29 L260.54,411.81 L261.10,411.32 L261.65,410.81 L262.20,410.29 L262.76,409.77 L263.31,409.23 L263.86,408.68 L264.41,408.12 L264.97,407.55 L265.52,406.97 L266.07,406.39 L266.63,405.80 L267.18,405.20 L267.73,404.60 L268.29,404.00 L268.84,403.39 L269.39,402.78 L269.94,402.16 L270.50,401.55 L271.05,400.93 L271.60,400.31 L272.16,399.70 L272.71,399.08 L273.26,398.47 L273.81,397.86 L274.37,397.26 L274.92,396.66 L275.47,396.06 L276.03,395.47 L276.58,394.89 L277.13,394.31 L277.69,393.74 L278.24,393.18 L278.79,392.63 L279.34,392.10 L279.90,391.57 L280.45,391.05 L281.00,390.54 L281.56,390.05 L282.11,389.57 L282.66,389.11 L283.22,388.66 L283.77,388.22 L284.32,387.80 L284.87,387.39 L285.43,387.01 L285.98,386.64 L286.53,386.28 L287.09,385.95 L287.64,385.63 L288.19,385.33 L288.74,385.05 L289.30,384.79 L289.85,384.55 L290.40,384.33 L290.96,384.13 L291.51,383.94 L292.06,383.79 L292.62,383.65 L293.17,383.53 L293.72,383.43 L294.27,383.36 L294.83,383.30 L295.38,383.27 L295.93,383.26 L296.49,383.27 L297.04,383.30 L297.59,383.36 L298.15,383.43 L298.70,383.53 L299.25,383.65 L299.80,383.79 L300.36,383.94 L300.91,384.13 L301.46,384.33 L302.02,384.55 L302.57,384.79 L303.12,385.05 L303.67,385.33 L304.23,385.63 L304.78,385.95 L305.33,386.28 L305.89,386.64 L306.44,387.01 L306.99,387.39 L307.55,387.80 L308.10,388.22 L308.65,388.66 L309.20,389.11 L309.76,389.57 L310.31,390.05 L310.86,390.54 L311.42,391.05 L311.97,391.57 L312.52,392.10 L313.08,392.63 L313.63,393.18 L314.18,393.74 L314.73,394.31 L315.29,394.89 L315.84,395.47 L316.39,396.06 L316.95,396.66 L317.50,397.26 L318.05,397.86 L318.60,398.47 L319.16,399.08 L319.71,399.70 L320.26,400.31 L320.82,400.93 L321.37,401.55 L321.92,402.16 L322.48,402.78 L323.03,403.39 L323.58,404.00 L324.13,404.60 L324.69,405.20 L325.24,405.80 L325.79,406.39 L326.35,406.97 L326.90,407.55 L327.45,408.12 L328.01,408.68 L328.56,409.23 L329.11,409.77 L329.66,410.29 L330.22,410.81 L330.77,411.32 L331.32,411.81 L331.88,412.29 L332.43,412.75 L332.98,413.20 L333.53,413.64 L334.09,414.06 L334.64,414.47 L335.19,414.85 L335.75,415.23 L336.30,415.58 L336.85,415.92 L337.41,416.23 L337.96,416.53 L338.51,416.81 L339.06,417.07 L339.62,417.31 L340.17,417.53 L340.72,417.74 L341.28,417.92 L341.83,418.08 L342.38,418.21 L342.94,418.33 L343.49,418.43 L344.04,418.50 L344.59,418.56 L345.15,418.59 L345.70,418.60" stroke="#b8c410" stroke-width="2.1" stroke-linecap="round" stroke-dasharray="0.01 3.1"/>
<path d="M47.10,375.03 L47.65,374.89 L48.21,374.70 L48.76,374.46 L49.31,374.16 L49.86,373.82 L50.42,373.43 L50.97,372.98 L51.52,372.46 L52.08,371.89 L52.63,371.25 L53.18,370.52 L53.74,369.69 L54.29,368.77 L54.84,367.76 L55.39,366.69 L55.95,365.50 L56.50,364.11 L57.05,362.58 L57.61,360.99 L58.16,359.41 L58.71,357.91 L59.27,356.43 L59.82,354.92 L60.37,353.42 L60.92,352.00 L61.48,350.70 L62.03,349.56 L62.58,348.42 L63.14,347.37 L63.69,346.56 L64.24,346.10 L64.79,345.83 L65.35,345.65 L65.90,345.65 L66.45,345.96 L67.01,346.42 L67.56,346.89 L68.11,347.45 L68.67,348.10 L69.22,348.80 L69.77,349.57 L70.32,350.44 L70.88,351.37 L71.43,352.34 L71.98,353.35 L72.54,354.35 L73.09,355.34 L73.64,356.36 L74.20,357.41 L74.75,358.47 L75.30,359.53 L75.85,360.57 L76.41,361.60 L76.96,362.64 L77.51,363.68 L78.07,364.67 L78.62,365.59 L79.17,366.40 L79.72,367.17 L80.28,367.89 L80.83,368.57 L81.38,369.19 L81.94,369.76 L82.49,370.30 L83.04,370.83 L83.60,371.33 L84.15,371.78 L84.70,372.16 L85.25,372.46 L85.81,372.68 L86.36,372.88 L86.91,373.07 L87.47,373.23 L88.02,373.39 L88.57,373.53 L89.13,373.65 L89.68,373.76 L90.23,373.87 L90.78,373.96 L91.34,374.04 L91.89,374.12 L92.44,374.20 L93.00,374.28 L93.55,374.35 L94.10,374.41 L94.65,374.47 L95.21,374.52 L95.76,374.56 L96.31,374.58 L96.87,374.59 L97.42,374.58 L97.97,374.56 L98.53,374.52 L99.08,374.47 L99.63,374.41 L100.18,374.35 L100.74,374.28 L101.29,374.20 L101.84,374.12 L102.40,374.04 L102.95,373.96 L103.50,373.87 L104.06,373.76 L104.61,373.65 L105.16,373.53 L105.71,373.39 L106.27,373.23 L106.82,373.07 L107.37,372.88 L107.93,372.68 L108.48,372.46 L109.03,372.16 L109.58,371.78 L110.14,371.33 L110.69,370.83 L111.24,370.30 L111.80,369.76 L112.35,369.19 L112.90,368.57 L113.46,367.89 L114.01,367.17 L114.56,366.40 L115.11,365.59 L115.67,364.67 L116.22,363.68 L116.77,362.64 L117.33,361.60 L117.88,360.57 L118.43,359.53 L118.99,358.47 L119.54,357.41 L120.09,356.36 L120.64,355.34 L121.20,354.35 L121.75,353.35 L122.30,352.34 L122.86,351.37 L123.41,350.44 L123.96,349.57 L124.51,348.80 L125.07,348.10 L125.62,347.45 L126.17,346.89 L126.73,346.42 L127.28,345.96 L127.83,345.65 L128.39,345.65 L128.94,345.83 L129.49,346.10 L130.04,346.56 L130.60,347.37 L131.15,348.42 L131.70,349.56 L132.26,350.70 L132.81,352.00 L133.36,353.42 L133.92,354.92 L134.47,356.43 L135.02,357.91 L135.57,359.41 L136.13,360.99 L136.68,362.58 L137.23,364.11 L137.79,365.50 L138.34,366.69 L138.89,367.76 L139.44,368.77 L140.00,369.69 L140.55,370.52 L141.10,371.25 L141.66,371.89 L142.21,372.46 L142.76,372.98 L143.32,373.43 L143.87,373.82 L144.42,374.16 L144.97,374.46 L145.53,374.70 L146.08,374.89 L146.63,375.03 L147.19,374.89 L147.74,374.70 L148.29,374.46 L148.85,374.16 L149.40,373.82 L149.95,373.43 L150.50,372.98 L151.06,372.46 L151.61,371.89 L152.16,371.25 L152.72,370.52 L153.27,369.69 L153.82,368.77 L154.37,367.76 L154.93,366.69 L155.48,365.50 L156.03,364.11 L156.59,362.58 L157.14,360.99 L157.69,359.41 L158.25,357.91 L158.80,356.43 L159.35,354.92 L159.90,353.42 L160.46,352.00 L161.01,350.70 L161.56,349.56 L162.12,348.42 L162.67,347.37 L163.22,346.56 L163.78,346.10 L164.33,345.83 L164.88,345.65 L165.43,345.65 L165.99,345.96 L166.54,346.42 L167.09,346.89 L167.65,347.45 L168.20,348.10 L168.75,348.80 L169.30,349.57 L169.86,350.44 L170.41,351.37 L170.96,352.34 L171.52,353.35 L172.07,354.35 L172.62,355.34 L173.18,356.36 L173.73,357.41 L174.28,358.47 L174.83,359.53 L175.39,360.57 L175.94,361.60 L176.49,362.64 L177.05,363.68 L177.60,364.67 L178.15,365.59 L178.71,366.40 L179.26,367.17 L179.81,367.89 L180.36,368.57 L180.92,369.19 L181.47,369.76 L182.02,370.30 L182.58,370.83 L183.13,371.33 L183.68,371.78 L184.23,372.16 L184.79,372.46 L185.34,372.68 L185.89,372.88 L186.45,373.07 L187.00,373.23 L187.55,373.39 L188.11,373.53 L188.66,373.65 L189.21,373.76 L189.76,373.87 L190.32,373.96 L190.87,374.04 L191.42,374.12 L191.98,374.20 L192.53,374.28 L193.08,374.35 L193.64,374.41 L194.19,374.47 L194.74,374.52 L195.29,374.56 L195.85,374.58 L196.40,374.59 L196.95,374.58 L197.51,374.56 L198.06,374.52 L198.61,374.47 L199.16,374.41 L199.72,374.35 L200.27,374.28 L200.82,374.20 L201.38,374.12 L201.93,374.04 L202.48,373.96 L203.04,373.87 L203.59,373.76 L204.14,373.65 L204.69,373.53 L205.25,373.39 L205.80,373.23 L206.35,373.07 L206.91,372.88 L207.46,372.68 L208.01,372.46 L208.57,372.16 L209.12,371.78 L209.67,371.33 L210.22,370.83 L210.78,370.30 L211.33,369.76 L211.88,369.19 L212.44,368.57 L212.99,367.89 L213.54,367.17 L214.09,366.40 L214.65,365.59 L215.20,364.67 L215.75,363.68 L216.31,362.64 L216.86,361.60 L217.41,360.57 L217.97,359.53 L218.52,358.47 L219.07,357.41 L219.62,356.36 L220.18,355.34 L220.73,354.35 L221.28,353.35 L221.84,352.34 L222.39,351.37 L222.94,350.44 L223.50,349.57 L224.05,348.80 L224.60,348.10 L225.15,347.45 L225.71,346.89 L226.26,346.42 L226.81,345.96 L227.37,345.65 L227.92,345.65 L228.47,345.83 L229.02,346.10 L229.58,346.56 L230.13,347.37 L230.68,348.42 L231.24,349.56 L231.79,350.70 L232.34,352.00 L232.90,353.42 L233.45,354.92 L234.00,356.43 L234.55,357.91 L235.11,359.41 L235.66,360.99 L236.21,362.58 L236.77,364.11 L237.32,365.50 L237.87,366.69 L238.43,367.76 L238.98,368.77 L239.53,369.69 L240.08,370.52 L240.64,371.25 L241.19,371.89 L241.74,372.46 L242.30,372.98 L242.85,373.43 L243.40,373.82 L243.95,374.16 L244.51,374.46 L245.06,374.70 L245.61,374.89 L246.17,375.03 L246.72,374.89 L247.27,374.70 L247.83,374.46 L248.38,374.16 L248.93,373.82 L249.48,373.43 L250.04,372.98 L250.59,372.46 L251.14,371.89 L251.70,371.25 L252.25,370.52 L252.80,369.69 L253.36,368.77 L253.91,367.76 L254.46,366.69 L255.01,365.50 L255.57,364.11 L256.12,362.58 L256.67,360.99 L257.23,359.41 L257.78,357.91 L258.33,356.43 L258.88,354.92 L259.44,353.42 L259.99,352.00 L260.54,350.70 L261.10,349.56 L261.65,348.42 L262.20,347.37 L262.76,346.56 L263.31,346.10 L263.86,345.83 L264.41,345.65 L264.97,345.65 L265.52,345.96 L266.07,346.42 L266.63,346.89 L267.18,347.45 L267.73,348.10 L268.29,348.80 L268.84,349.57 L269.39,350.44 L269.94,351.37 L270.50,352.34 L271.05,353.35 L271.60,354.35 L272.16,355.34 L272.71,356.36 L273.26,357.41 L273.81,358.47 L274.37,359.53 L274.92,360.57 L275.47,361.60 L276.03,362.64 L276.58,363.68 L277.13,364.67 L277.69,365.59 L278.24,366.40 L278.79,367.17 L279.34,367.89 L279.90,368.57 L280.45,369.19 L281.00,369.76 L281.56,370.30 L282.11,370.83 L282.66,371.33 L283.22,371.78 L283.77,372.16 L284.32,372.46 L284.87,372.68 L285.43,372.88 L285.98,373.07 L286.53,373.23 L287.09,373.39 L287.64,373.53 L288.19,373.65 L288.74,373.76 L289.30,373.87 L289.85,373.96 L290.40,374.04 L290.96,374.12 L291.51,374.20 L292.06,374.28 L292.62,374.35 L293.17,374.41 L293.72,374.47 L294.27,374.52 L294.83,374.56 L295.38,374.58 L295.93,374.59 L296.49,374.58 L297.04,374.56 L297.59,374.52 L298.15,374.47 L298.70,374.41 L299.25,374.35 L299.80,374.28 L300.36,374.20 L300.91,374.12 L301.46,374.04 L302.02,373.96 L302.57,373.87 L303.12,373.76 L303.67,373.65 L304.23,373.53 L304.78,373.39 L305.33,373.23 L305.89,373.07 L306.44,372.88 L306.99,372.68 L307.55,372.46 L308.10,372.16 L308.65,371.78 L309.20,371.33 L309.76,370.83 L310.31,370.30 L310.86,369.76 L311.42,369.19 L311.97,368.57 L312.52,367.89 L313.08,367.17 L313.63,366.40 L314.18,365.59 L314.73,364.67 L315.29,363.68 L315.84,362.64 L316.39,361.60 L316.95,360.57 L317.50,359.53 L318.05,358.47 L318.60,357.41 L319.16,356.36 L319.71,355.34 L320.26,354.35 L320.82,353.35 L321.37,352.34 L321.92,351.37 L322.48,350.44 L323.03,349.57 L323.58,348.80 L324.13,348.10 L324.69,347.45 L325.24,346.89 L325.79,346.42 L326.35,345.96 L326.90,345.65 L327.45,345.65 L328.01,345.83 L328.56,346.10 L329.11,346.56 L329.66,347.37 L330.22,348.42 L330.77,349.56 L331.32,350.70 L331.88,352.00 L332.43,353.42 L332.98,354.92 L333.53,356.43 L334.09,357.91 L334.64,359.41 L335.19,360.99 L335.75,362.58 L336.30,364.11 L336.85,365.50 L337.41,366.69 L337.96,367.76 L338.51,368.77 L339.06,369.69 L339.62,370.52 L340.17,371.25 L340.72,371.89 L341.28,372.46 L341.83,372.98 L342.38,373.43 L342.94,373.82 L343.49,374.16 L344.04,374.46 L344.59,374.70 L345.15,374.89 L345.70,375.03" stroke="#004018" stroke-width="2.6"/>
<path d="M47.10,408.39 L47.65,407.81 L48.21,406.33 L48.76,403.75 L49.31,399.91 L49.86,395.02 L50.42,388.31 L50.97,382.59 L51.52,379.01 L52.08,375.54 L52.63,370.44 L53.18,364.56 L53.74,360.25 L54.29,356.86 L54.84,353.63 L55.39,350.26 L55.95,346.93 L56.50,343.73 L57.05,340.75 L57.61,337.72 L58.16,334.93 L58.71,333.00 L59.27,331.72 L59.82,330.68 L60.37,330.09 L60.92,330.11 L61.48,330.57 L62.03,331.34 L62.58,332.34 L63.14,333.47 L63.69,334.64 L64.24,336.02 L64.79,337.75 L65.35,339.76 L65.90,341.95 L66.45,344.26 L67.01,346.91 L67.56,349.84 L68.11,352.91 L68.67,355.99 L69.22,359.04 L69.77,362.18 L70.32,365.36 L70.88,368.51 L71.43,371.57 L71.98,374.53 L72.54,377.45 L73.09,380.40 L73.64,383.59 L74.20,386.81 L74.75,389.79 L75.30,392.28 L75.85,394.20 L76.41,395.83 L76.96,397.28 L77.51,398.62 L78.07,399.94 L78.62,401.29 L79.17,402.63 L79.72,403.89 L80.28,405.03 L80.83,405.98 L81.38,406.75 L81.94,407.39 L82.49,407.95 L83.04,408.43 L83.60,408.88 L84.15,409.28 L84.70,409.68 L85.25,410.07 L85.81,410.47 L86.36,410.90 L86.91,411.34 L87.47,411.79 L88.02,412.24 L88.57,412.69 L89.13,413.15 L89.68,413.61 L90.23,414.10 L90.78,414.61 L91.34,415.10 L91.89,415.58 L92.44,416.02 L93.00,416.41 L93.55,416.75 L94.10,417.08 L94.65,417.39 L95.21,417.68 L95.76,417.94 L96.31,418.18 L96.87,418.38 L97.42,418.18 L97.97,417.94 L98.53,417.68 L99.08,417.39 L99.63,417.08 L100.18,416.75 L100.74,416.41 L101.29,416.02 L101.84,415.58 L102.40,415.10 L102.95,414.61 L103.50,414.10 L104.06,413.61 L104.61,413.15 L105.16,412.69 L105.71,412.24 L106.27,411.79 L106.82,411.34 L107.37,410.90 L107.93,410.47 L108.48,410.07 L109.03,409.68 L109.58,409.28 L110.14,408.88 L110.69,408.43 L111.24,407.95 L111.80,407.39 L112.35,406.75 L112.90,405.98 L113.46,405.03 L114.01,403.89 L114.56,402.63 L115.11,401.29 L115.67,399.94 L116.22,398.62 L116.77,397.28 L117.33,395.83 L117.88,394.20 L118.43,392.28 L118.99,389.79 L119.54,386.81 L120.09,383.59 L120.64,380.40 L121.20,377.45 L121.75,374.53 L122.30,371.57 L122.86,368.51 L123.41,365.36 L123.96,362.18 L124.51,359.04 L125.07,355.99 L125.62,352.91 L126.17,349.84 L126.73,346.91 L127.28,344.26 L127.83,341.95 L128.39,339.76 L128.94,337.75 L129.49,336.02 L130.04,334.64 L130.60,333.47 L131.15,332.34 L131.70,331.34 L132.26,330.57 L132.81,330.11 L133.36,330.09 L133.92,330.68 L134.47,331.72 L135.02,333.00 L135.57,334.93 L136.13,337.72 L136.68,340.75 L137.23,343.73 L137.79,346.93 L138.34,350.26 L138.89,353.63 L139.44,356.86 L140.00,360.25 L140.55,364.56 L141.10,370.44 L141.66,375.54 L142.21,379.01 L142.76,382.59 L143.32,388.31 L143.87,395.02 L144.42,399.91 L144.97,403.75 L145.53,406.33 L146.08,407.81 L146.63,408.39 L147.19,407.81 L147.74,406.33 L148.29,403.75 L148.85,399.91 L149.40,395.02 L149.95,388.31 L150.50,382.59 L151.06,379.01 L151.61,375.54 L152.16,370.44 L152.72,364.56 L153.27,360.25 L153.82,356.86 L154.37,353.63 L154.93,350.26 L155.48,346.93 L156.03,343.73 L156.59,340.75 L157.14,337.72 L157.69,334.93 L158.25,333.00 L158.80,331.72 L159.35,330.68 L159.90,330.09 L160.46,330.11 L161.01,330.57 L161.56,331.34 L162.12,332.34 L162.67,333.47 L163.22,334.64 L163.78,336.02 L164.33,337.75 L164.88,339.76 L165.43,341.95 L165.99,344.26 L166.54,346.91 L167.09,349.84 L167.65,352.91 L168.20,355.99 L168.75,359.04 L169.30,362.18 L169.86,365.36 L170.41,368.51 L170.96,371.57 L171.52,374.53 L172.07,377.45 L172.62,380.40 L173.18,383.59 L173.73,386.81 L174.28,389.79 L174.83,392.28 L175.39,394.20 L175.94,395.83 L176.49,397.28 L177.05,398.62 L177.60,399.94 L178.15,401.29 L178.71,402.63 L179.26,403.89 L179.81,405.03 L180.36,405.98 L180.92,406.75 L181.47,407.39 L182.02,407.95 L182.58,408.43 L183.13,408.88 L183.68,409.28 L184.23,409.68 L184.79,410.07 L185.34,410.47 L185.89,410.90 L186.45,411.34 L187.00,411.79 L187.55,412.24 L188.11,412.69 L188.66,413.15 L189.21,413.61 L189.76,414.10 L190.32,414.61 L190.87,415.10 L191.42,415.58 L191.98,416.02 L192.53,416.41 L193.08,416.75 L193.64,417.08 L194.19,417.39 L194.74,417.68 L195.29,417.94 L195.85,418.18 L196.40,418.38 L196.95,418.18 L197.51,417.94 L198.06,417.68 L198.61,417.39 L199.16,417.08 L199.72,416.75 L200.27,416.41 L200.82,416.02 L201.38,415.58 L201.93,415.10 L202.48,414.61 L203.04,414.10 L203.59,413.61 L204.14,413.15 L204.69,412.69 L205.25,412.24 L205.80,411.79 L206.35,411.34 L206.91,410.90 L207.46,410.47 L208.01,410.07 L208.57,409.68 L209.12,409.28 L209.67,408.88 L210.22,408.43 L210.78,407.95 L211.33,407.39 L211.88,406.75 L212.44,405.98 L212.99,405.03 L213.54,403.89 L214.09,402.63 L214.65,401.29 L215.20,399.94 L215.75,398.62 L216.31,397.28 L216.86,395.83 L217.41,394.20 L217.97,392.28 L218.52,389.79 L219.07,386.81 L219.62,383.59 L220.18,380.40 L220.73,377.45 L221.28,374.53 L221.84,371.57 L222.39,368.51 L222.94,365.36 L223.50,362.18 L224.05,359.04 L224.60,355.99 L225.15,352.91 L225.71,349.84 L226.26,346.91 L226.81,344.26 L227.37,341.95 L227.92,339.76 L228.47,337.75 L229.02,336.02 L229.58,334.64 L230.13,333.47 L230.68,332.34 L231.24,331.34 L231.79,330.57 L232.34,330.11 L232.90,330.09 L233.45,330.68 L234.00,331.72 L234.55,333.00 L235.11,334.93 L235.66,337.72 L236.21,340.75 L236.77,343.73 L237.32,346.93 L237.87,350.26 L238.43,353.63 L238.98,356.86 L239.53,360.25 L240.08,364.56 L240.64,370.44 L241.19,375.54 L241.74,379.01 L242.30,382.59 L242.85,388.31 L243.40,395.02 L243.95,399.91 L244.51,403.75 L245.06,406.33 L245.61,407.81 L246.17,408.39 L246.72,407.81 L247.27,406.33 L247.83,403.75 L248.38,399.91 L248.93,395.02 L249.48,388.31 L250.04,382.59 L250.59,379.01 L251.14,375.54 L251.70,370.44 L252.25,364.56 L252.80,360.25 L253.36,356.86 L253.91,353.63 L254.46,350.26 L255.01,346.93 L255.57,343.73 L256.12,340.75 L256.67,337.72 L257.23,334.93 L257.78,333.00 L258.33,331.72 L258.88,330.68 L259.44,330.09 L259.99,330.11 L260.54,330.57 L261.10,331.34 L261.65,332.34 L262.20,333.47 L262.76,334.64 L263.31,336.02 L263.86,337.75 L264.41,339.76 L264.97,341.95 L265.52,344.26 L266.07,346.91 L266.63,349.84 L267.18,352.91 L267.73,355.99 L268.29,359.04 L268.84,362.18 L269.39,365.36 L269.94,368.51 L270.50,371.57 L271.05,374.53 L271.60,377.45 L272.16,380.40 L272.71,383.59 L273.26,386.81 L273.81,389.79 L274.37,392.28 L274.92,394.20 L275.47,395.83 L276.03,397.28 L276.58,398.62 L277.13,399.94 L277.69,401.29 L278.24,402.63 L278.79,403.89 L279.34,405.03 L279.90,405.98 L280.45,406.75 L281.00,407.39 L281.56,407.95 L282.11,408.43 L282.66,408.88 L283.22,409.28 L283.77,409.68 L284.32,410.07 L284.87,410.47 L285.43,410.90 L285.98,411.34 L286.53,411.79 L287.09,412.24 L287.64,412.69 L288.19,413.15 L288.74,413.61 L289.30,414.10 L289.85,414.61 L290.40,415.10 L290.96,415.58 L291.51,416.02 L292.06,416.41 L292.62,416.75 L293.17,417.08 L293.72,417.39 L294.27,417.68 L294.83,417.94 L295.38,418.18 L295.93,418.38 L296.49,418.18 L297.04,417.94 L297.59,417.68 L298.15,417.39 L298.70,417.08 L299.25,416.75 L299.80,416.41 L300.36,416.02 L300.91,415.58 L301.46,415.10 L302.02,414.61 L302.57,414.10 L303.12,413.61 L303.67,413.15 L304.23,412.69 L304.78,412.24 L305.33,411.79 L305.89,411.34 L306.44,410.90 L306.99,410.47 L307.55,410.07 L308.10,409.68 L308.65,409.28 L309.20,408.88 L309.76,408.43 L310.31,407.95 L310.86,407.39 L311.42,406.75 L311.97,405.98 L312.52,405.03 L313.08,403.89 L313.63,402.63 L314.18,401.29 L314.73,399.94 L315.29,398.62 L315.84,397.28 L316.39,395.83 L316.95,394.20 L317.50,392.28 L318.05,389.79 L318.60,386.81 L319.16,383.59 L319.71,380.40 L320.26,377.45 L320.82,374.53 L321.37,371.57 L321.92,368.51 L322.48,365.36 L323.03,362.18 L323.58,359.04 L324.13,355.99 L324.69,352.91 L325.24,349.84 L325.79,346.91 L326.35,344.26 L326.90,341.95 L327.45,339.76 L328.01,337.75 L328.56,336.02 L329.11,334.64 L329.66,333.47 L330.22,332.34 L330.77,331.34 L331.32,330.57 L331.88,330.11 L332.43,330.09 L332.98,330.68 L333.53,331.72 L334.09,333.00 L334.64,334.93 L335.19,337.72 L335.75,340.75 L336.30,343.73 L336.85,346.93 L337.41,350.26 L337.96,353.63 L338.51,356.86 L339.06,360.25 L339.62,364.56 L340.17,370.44 L340.72,375.54 L341.28,379.01 L341.83,382.59 L342.38,388.31 L342.94,395.02 L343.49,399.91 L344.04,403.75 L344.59,406.33 L345.15,407.81 L345.70,408.39" stroke="#5a8c10" stroke-width="2.2" stroke-linecap="round" stroke-dasharray="2.2 5.8"/>
<path d="M78.07,399.86 L78.62,401.54 L79.17,403.07 L79.72,404.29 L80.28,405.16 L80.83,405.78 L81.38,406.33 L81.94,406.98 L82.49,407.76 L83.04,408.58 L83.60,409.27 L84.15,409.72 L84.70,409.91 L85.25,409.97 L85.81,410.10 L86.36,410.45 L86.91,411.06 L87.47,411.83 L88.02,412.57 L88.57,413.14 L89.13,413.47 L89.68,413.63 L90.23,413.80 L90.78,414.16 L91.34,414.75 L91.89,415.51 L92.44,416.28 L93.00,416.85 L93.55,417.14 L94.10,417.20 L94.65,417.18 L95.21,417.25 L95.76,417.53 L96.31,418.00 L96.87,418.54 L97.42,418.58 L97.97,418.37 L98.53,417.90 L99.08,417.28 L99.63,416.70 L100.18,416.31 L100.74,416.14 L101.29,416.08 L101.84,415.93 L102.40,415.55 L102.95,414.91 L103.50,414.10 L104.06,413.30 L104.61,412.70 L105.16,412.35 L105.71,412.18 L106.27,412.05 L106.82,411.78 L107.37,411.27 L107.93,410.57 L108.48,409.84 L109.03,409.25 L109.58,408.88 L110.14,408.72 L110.69,408.61 L111.24,408.36 L111.80,407.82 L112.35,406.96 L112.90,405.86 L113.46,404.64 L114.01,403.45 L114.56,402.38 L115.11,401.36 L115.67,400.30" stroke="#5a8c10" stroke-width="2.4"/>
<path d="M177.60,400.06 L178.15,401.68 L178.71,403.07 L179.26,404.15 L179.81,404.96 L180.36,405.62 L180.92,406.30 L181.47,407.10 L182.02,407.96 L182.58,408.75 L183.13,409.33 L183.68,409.62 L184.23,409.72 L184.79,409.79 L185.34,410.02 L185.89,410.53 L186.45,411.24 L187.00,412.02 L187.55,412.67 L188.11,413.09 L188.66,413.29 L189.21,413.43 L189.76,413.69 L190.32,414.19 L190.87,414.91 L191.42,415.72 L191.98,416.41 L192.53,416.84 L193.08,416.99 L193.64,417.00 L194.19,417.03 L194.74,417.23 L195.29,417.65 L195.85,418.21 L196.40,418.71 L196.95,418.63 L197.51,418.27 L198.06,417.70 L198.61,417.10 L199.16,416.63 L199.72,416.39 L200.27,416.33 L200.82,416.27 L201.38,416.02 L201.93,415.49 L202.48,414.74 L203.04,413.90 L203.59,413.19 L204.14,412.73 L204.69,412.51 L205.25,412.39 L205.80,412.19 L206.35,411.77 L206.91,411.13 L207.46,410.37 L208.01,409.69 L208.57,409.23 L209.12,409.01 L209.67,408.92 L210.22,408.77 L210.78,408.40 L211.33,407.71 L211.88,406.76 L212.44,405.68 L212.99,404.58 L213.54,403.54 L214.09,402.57 L214.65,401.55 L215.20,400.38" stroke="#5a8c10" stroke-width="2.4"/>
<path d="M277.13,400.24 L277.69,401.74 L278.24,402.98 L278.79,403.96 L279.34,404.77 L279.90,405.54 L280.45,406.36 L281.00,407.28 L281.56,408.16 L282.11,408.86 L282.66,409.29 L283.22,409.46 L283.77,409.52 L284.32,409.66 L284.87,410.04 L285.43,410.68 L285.98,411.45 L286.53,412.17 L287.09,412.68 L287.64,412.96 L288.19,413.09 L288.74,413.27 L289.30,413.65 L289.85,414.30 L290.40,415.11 L290.96,415.89 L291.51,416.47 L292.06,416.75 L292.62,416.80 L293.17,416.81 L293.72,416.95 L294.27,417.30 L294.83,417.84 L295.38,418.40 L295.93,418.81 L296.49,418.58 L297.04,418.10 L297.59,417.50 L298.15,416.98 L298.70,416.66 L299.25,416.54 L299.80,416.53 L300.36,416.41 L300.91,416.02 L301.46,415.36 L302.02,414.53 L302.57,413.75 L303.12,413.17 L303.67,412.85 L304.23,412.71 L304.78,412.56 L305.33,412.24 L305.89,411.67 L306.44,410.93 L306.99,410.19 L307.55,409.62 L308.10,409.31 L308.65,409.19 L309.20,409.11 L309.76,408.87 L310.31,408.34 L310.86,407.54 L311.42,406.56 L311.97,405.56 L312.52,404.61 L313.08,403.70 L313.63,402.77 L314.18,401.69 L314.73,400.38" stroke="#5a8c10" stroke-width="2.4"/>
<path d="M47.10,368.66 L47.65,364.51 L48.21,360.30 L48.76,356.04 L49.31,351.66 L49.86,347.23 L50.42,342.98 L50.97,339.10 L51.52,335.41 L52.08,331.57 L52.63,327.29 L53.18,322.61 L53.74,317.77 L54.29,312.97 L54.84,308.08 L55.39,303.23 L55.95,298.63 L56.50,294.33 L57.05,290.19 L57.61,286.07 L58.16,281.99 L58.71,278.12 L59.27,274.22 L59.82,270.65 L60.37,268.38 L60.92,266.96 L61.48,265.83 L62.03,264.95 L62.58,264.16 L63.14,263.59 L63.69,263.68 L64.24,264.45 L64.79,265.50 L65.35,266.81 L65.90,268.56 L66.45,270.56 L67.01,272.63 L67.56,274.76 L68.11,277.06 L68.67,279.49 L69.22,282.05 L69.77,284.71 L70.32,287.54 L70.88,290.75 L71.43,294.10 L71.98,297.30 L72.54,300.07 L73.09,302.40 L73.64,304.52 L74.20,306.48 L74.75,308.36 L75.30,310.23 L75.85,312.14 L76.41,314.13 L76.96,316.12 L77.51,318.04 L78.07,319.83 L78.62,321.50 L79.17,323.10 L79.72,324.57 L80.28,325.86 L80.83,327.02 L81.38,328.11 L81.94,329.12 L82.49,330.04 L83.04,330.86 L83.60,331.57 L84.15,332.17 L84.70,332.69 L85.25,333.16 L85.81,333.61 L86.36,334.05 L86.91,334.49 L87.47,334.93 L88.02,335.37 L88.57,335.79 L89.13,336.20 L89.68,336.59 L90.23,336.96 L90.78,337.30 L91.34,337.61 L91.89,337.88 L92.44,338.13 L93.00,338.37 L93.55,338.59 L94.10,338.80 L94.65,339.00 L95.21,339.18 L95.76,339.33 L96.31,339.47 L96.87,339.58 L97.42,339.47 L97.97,339.33 L98.53,339.18 L99.08,339.00 L99.63,338.80 L100.18,338.59 L100.74,338.37 L101.29,338.13 L101.84,337.88 L102.40,337.61 L102.95,337.30 L103.50,336.96 L104.06,336.59 L104.61,336.20 L105.16,335.79 L105.71,335.37 L106.27,334.93 L106.82,334.49 L107.37,334.05 L107.93,333.61 L108.48,333.16 L109.03,332.69 L109.58,332.17 L110.14,331.57 L110.69,330.86 L111.24,330.04 L111.80,329.12 L112.35,328.11 L112.90,327.02 L113.46,325.86 L114.01,324.57 L114.56,323.10 L115.11,321.50 L115.67,319.83 L116.22,318.04 L116.77,316.12 L117.33,314.13 L117.88,312.14 L118.43,310.23 L118.99,308.36 L119.54,306.48 L120.09,304.52 L120.64,302.40 L121.20,300.07 L121.75,297.30 L122.30,294.10 L122.86,290.75 L123.41,287.54 L123.96,284.71 L124.51,282.05 L125.07,279.49 L125.62,277.06 L126.17,274.76 L126.73,272.63 L127.28,270.56 L127.83,268.56 L128.39,266.81 L128.94,265.50 L129.49,264.45 L130.04,263.68 L130.60,263.59 L131.15,264.16 L131.70,264.95 L132.26,265.83 L132.81,266.96 L133.36,268.38 L133.92,270.65 L134.47,274.22 L135.02,278.12 L135.57,281.99 L136.13,286.07 L136.68,290.19 L137.23,294.33 L137.79,298.63 L138.34,303.23 L138.89,308.08 L139.44,312.97 L140.00,317.77 L140.55,322.61 L141.10,327.29 L141.66,331.57 L142.21,335.41 L142.76,339.10 L143.32,342.98 L143.87,347.23 L144.42,351.66 L144.97,356.04 L145.53,360.30 L146.08,364.51 L146.63,368.66 L147.19,364.51 L147.74,360.30 L148.29,356.04 L148.85,351.66 L149.40,347.23 L149.95,342.98 L150.50,339.10 L151.06,335.41 L151.61,331.57 L152.16,327.29 L152.72,322.61 L153.27,317.77 L153.82,312.97 L154.37,308.08 L154.93,303.23 L155.48,298.63 L156.03,294.33 L156.59,290.19 L157.14,286.07 L157.69,281.99 L158.25,278.12 L158.80,274.22 L159.35,270.65 L159.90,268.38 L160.46,266.96 L161.01,265.83 L161.56,264.95 L162.12,264.16 L162.67,263.59 L163.22,263.68 L163.78,264.45 L164.33,265.50 L164.88,266.81 L165.43,268.56 L165.99,270.56 L166.54,272.63 L167.09,274.76 L167.65,277.06 L168.20,279.49 L168.75,282.05 L169.30,284.71 L169.86,287.54 L170.41,290.75 L170.96,294.10 L171.52,297.30 L172.07,300.07 L172.62,302.40 L173.18,304.52 L173.73,306.48 L174.28,308.36 L174.83,310.23 L175.39,312.14 L175.94,314.13 L176.49,316.12 L177.05,318.04 L177.60,319.83 L178.15,321.50 L178.71,323.10 L179.26,324.57 L179.81,325.86 L180.36,327.02 L180.92,328.11 L181.47,329.12 L182.02,330.04 L182.58,330.86 L183.13,331.57 L183.68,332.17 L184.23,332.69 L184.79,333.16 L185.34,333.61 L185.89,334.05 L186.45,334.49 L187.00,334.93 L187.55,335.37 L188.11,335.79 L188.66,336.20 L189.21,336.59 L189.76,336.96 L190.32,337.30 L190.87,337.61 L191.42,337.88 L191.98,338.13 L192.53,338.37 L193.08,338.59 L193.64,338.80 L194.19,339.00 L194.74,339.18 L195.29,339.33 L195.85,339.47 L196.40,339.58 L196.95,339.47 L197.51,339.33 L198.06,339.18 L198.61,339.00 L199.16,338.80 L199.72,338.59 L200.27,338.37 L200.82,338.13 L201.38,337.88 L201.93,337.61 L202.48,337.30 L203.04,336.96 L203.59,336.59 L204.14,336.20 L204.69,335.79 L205.25,335.37 L205.80,334.93 L206.35,334.49 L206.91,334.05 L207.46,333.61 L208.01,333.16 L208.57,332.69 L209.12,332.17 L209.67,331.57 L210.22,330.86 L210.78,330.04 L211.33,329.12 L211.88,328.11 L212.44,327.02 L212.99,325.86 L213.54,324.57 L214.09,323.10 L214.65,321.50 L215.20,319.83 L215.75,318.04 L216.31,316.12 L216.86,314.13 L217.41,312.14 L217.97,310.23 L218.52,308.36 L219.07,306.48 L219.62,304.52 L220.18,302.40 L220.73,300.07 L221.28,297.30 L221.84,294.10 L222.39,290.75 L222.94,287.54 L223.50,284.71 L224.05,282.05 L224.60,279.49 L225.15,277.06 L225.71,274.76 L226.26,272.63 L226.81,270.56 L227.37,268.56 L227.92,266.81 L228.47,265.50 L229.02,264.45 L229.58,263.68 L230.13,263.59 L230.68,264.16 L231.24,264.95 L231.79,265.83 L232.34,266.96 L232.90,268.38 L233.45,270.65 L234.00,274.22 L234.55,278.12 L235.11,281.99 L235.66,286.07 L236.21,290.19 L236.77,294.33 L237.32,298.63 L237.87,303.23 L238.43,308.08 L238.98,312.97 L239.53,317.77 L240.08,322.61 L240.64,327.29 L241.19,331.57 L241.74,335.41 L242.30,339.10 L242.85,342.98 L243.40,347.23 L243.95,351.66 L244.51,356.04 L245.06,360.30 L245.61,364.51 L246.17,368.66 L246.72,364.51 L247.27,360.30 L247.83,356.04 L248.38,351.66 L248.93,347.23 L249.48,342.98 L250.04,339.10 L250.59,335.41 L251.14,331.57 L251.70,327.29 L252.25,322.61 L252.80,317.77 L253.36,312.97 L253.91,308.08 L254.46,303.23 L255.01,298.63 L255.57,294.33 L256.12,290.19 L256.67,286.07 L257.23,281.99 L257.78,278.12 L258.33,274.22 L258.88,270.65 L259.44,268.38 L259.99,266.96 L260.54,265.83 L261.10,264.95 L261.65,264.16 L262.20,263.59 L262.76,263.68 L263.31,264.45 L263.86,265.50 L264.41,266.81 L264.97,268.56 L265.52,270.56 L266.07,272.63 L266.63,274.76 L267.18,277.06 L267.73,279.49 L268.29,282.05 L268.84,284.71 L269.39,287.54 L269.94,290.75 L270.50,294.10 L271.05,297.30 L271.60,300.07 L272.16,302.40 L272.71,304.52 L273.26,306.48 L273.81,308.36 L274.37,310.23 L274.92,312.14 L275.47,314.13 L276.03,316.12 L276.58,318.04 L277.13,319.83 L277.69,321.50 L278.24,323.10 L278.79,324.57 L279.34,325.86 L279.90,327.02 L280.45,328.11 L281.00,329.12 L281.56,330.04 L282.11,330.86 L282.66,331.57 L283.22,332.17 L283.77,332.69 L284.32,333.16 L284.87,333.61 L285.43,334.05 L285.98,334.49 L286.53,334.93 L287.09,335.37 L287.64,335.79 L288.19,336.20 L288.74,336.59 L289.30,336.96 L289.85,337.30 L290.40,337.61 L290.96,337.88 L291.51,338.13 L292.06,338.37 L292.62,338.59 L293.17,338.80 L293.72,339.00 L294.27,339.18 L294.83,339.33 L295.38,339.47 L295.93,339.58 L296.49,339.47 L297.04,339.33 L297.59,339.18 L298.15,339.00 L298.70,338.80 L299.25,338.59 L299.80,338.37 L300.36,338.13 L300.91,337.88 L301.46,337.61 L302.02,337.30 L302.57,336.96 L303.12,336.59 L303.67,336.20 L304.23,335.79 L304.78,335.37 L305.33,334.93 L305.89,334.49 L306.44,334.05 L306.99,333.61 L307.55,333.16 L308.10,332.69 L308.65,332.17 L309.20,331.57 L309.76,330.86 L310.31,330.04 L310.86,329.12 L311.42,328.11 L311.97,327.02 L312.52,325.86 L313.08,324.57 L313.63,323.10 L314.18,321.50 L314.73,319.83 L315.29,318.04 L315.84,316.12 L316.39,314.13 L316.95,312.14 L317.50,310.23 L318.05,308.36 L318.60,306.48 L319.16,304.52 L319.71,302.40 L320.26,300.07 L320.82,297.30 L321.37,294.10 L321.92,290.75 L322.48,287.54 L323.03,284.71 L323.58,282.05 L324.13,279.49 L324.69,277.06 L325.24,274.76 L325.79,272.63 L326.35,270.56 L326.90,268.56 L327.45,266.81 L328.01,265.50 L328.56,264.45 L329.11,263.68 L329.66,263.59 L330.22,264.16 L330.77,264.95 L331.32,265.83 L331.88,266.96 L332.43,268.38 L332.98,270.65 L333.53,274.22 L334.09,278.12 L334.64,281.99 L335.19,286.07 L335.75,290.19 L336.30,294.33 L336.85,298.63 L337.41,303.23 L337.96,308.08 L338.51,312.97 L339.06,317.77 L339.62,322.61 L340.17,327.29 L340.72,331.57 L341.28,335.41 L341.83,339.10 L342.38,342.98 L342.94,347.23 L343.49,351.66 L344.04,356.04 L344.59,360.30 L345.15,364.51 L345.70,368.66" stroke="#ff0000" stroke-width="3"/>
<g stroke="#ff0000" stroke-width="1.4"><path d="M48.54 355.50L53.14 360.10L48.54 364.70L43.94 360.10Z"/>
<path d="M58.05 289.54L62.65 294.14L58.05 298.74L53.45 294.14Z"/>
<path d="M67.78 256.95L72.38 261.55L67.78 266.15L63.18 261.55Z"/>
<path d="M80.61 314.02L85.21 318.62L80.61 323.22L76.01 318.62Z"/>
<path d="M90.34 334.54L94.94 339.14L90.34 343.74L85.74 339.14Z"/>
<path d="M99.30 335.64L103.90 340.24L99.30 344.84L94.70 340.24Z"/>
<path d="M112.57 314.02L117.17 318.62L112.57 323.22L107.97 318.62Z"/>
<path d="M123.96 272.97L128.56 277.57L123.96 282.17L119.36 277.57Z"/>
<path d="M134.69 310.73L139.29 315.33L134.69 319.93L130.09 315.33Z"/>
<path d="M145.31 363.84L149.91 368.44L145.31 373.04L140.71 368.44Z"/>
<path d="M155.15 309.41L159.75 314.01L155.15 318.61L150.55 314.01Z"/>
<path d="M167.20 276.59L171.80 281.19L167.20 285.79L162.60 281.19Z"/>
<path d="M177.49 317.86L182.09 322.46L177.49 327.06L172.89 322.46Z"/>
<path d="M188.66 336.41L193.26 341.01L188.66 345.61L184.06 341.01Z"/>
<path d="M203.81 335.64L208.41 340.24L203.81 344.84L199.21 340.24Z"/>
<path d="M212.33 323.57L216.93 328.17L212.33 332.77L207.73 328.17Z"/>
<path d="M224.38 273.63L228.98 278.23L224.38 282.83L219.78 278.23Z"/>
<path d="M235.33 302.27L239.93 306.87L235.33 311.47L230.73 306.87Z"/>
<path d="M247.49 354.41L252.09 359.01L247.49 363.61L242.89 359.01Z"/>
<path d="M256.45 289.10L261.05 293.70L256.45 298.30L251.85 293.70Z"/>
<path d="M266.74 256.51L271.34 261.11L266.74 265.71L262.14 261.11Z"/>
<path d="M279.68 314.02L284.28 318.62L279.68 323.22L275.08 318.62Z"/>
<path d="M289.85 333.77L294.45 338.37L289.85 342.97L285.25 338.37Z"/>
<path d="M299.36 335.64L303.96 340.24L299.36 344.84L294.76 340.24Z"/>
<path d="M311.53 314.02L316.13 318.62L311.53 323.22L306.93 318.62Z"/>
<path d="M323.36 273.08L327.96 277.68L323.36 282.28L318.76 277.68Z"/>
<path d="M333.98 310.73L338.58 315.33L333.98 319.93L329.38 315.33Z"/>
<path d="M343.05 364.61L347.65 369.21L343.05 373.81L338.45 369.21Z"/></g>
</g>
<g fill="none" stroke="#000" stroke-width="1.4">
<rect x="47.10" y="1.00" width="298.60" height="219.60"/>
<rect x="47.10" y="220.60" width="298.60" height="219.60"/>
<path d="M47.10 220.60V216.60 M47.10 1.00V5.00 M96.87 220.60V216.60 M96.87 1.00V5.00 M146.63 220.60V216.60 M146.63 1.00V5.00 M196.40 220.60V216.60 M196.40 1.00V5.00 M246.17 220.60V216.60 M246.17 1.00V5.00 M295.93 220.60V216.60 M295.93 1.00V5.00 M345.70 220.60V216.60 M345.70 1.00V5.00 M47.10 440.20V436.20 M47.10 220.60V224.60 M96.87 440.20V436.20 M96.87 220.60V224.60 M146.63 440.20V436.20 M146.63 220.60V224.60 M196.40 440.20V436.20 M196.40 220.60V224.60 M246.17 440.20V436.20 M246.17 220.60V224.60 M295.93 440.20V436.20 M295.93 220.60V224.60 M345.70 440.20V436.20 M345.70 220.60V224.60"/>
<path d="M47.10 205.00H51.10 M345.70 205.00H341.70 M47.10 142.12H51.10 M345.70 142.12H341.70 M47.10 79.23H51.10 M345.70 79.23H341.70 M47.10 16.35H51.10 M345.70 16.35H341.70 M47.10 173.56H49.10 M345.70 173.56H343.70 M47.10 110.67H49.10 M345.70 110.67H343.70 M47.10 47.79H49.10 M345.70 47.79H343.70"/>
<path d="M47.10 418.60H51.10 M345.70 418.60H341.70 M47.10 374.70H51.10 M345.70 374.70H341.70 M47.10 330.80H51.10 M345.70 330.80H341.70 M47.10 286.90H51.10 M345.70 286.90H341.70 M47.10 243.00H51.10 M345.70 243.00H341.70 M47.10 396.65H49.10 M345.70 396.65H343.70 M47.10 352.75H49.10 M345.70 352.75H343.70 M47.10 308.85H49.10 M345.70 308.85H343.70 M47.10 264.95H49.10 M345.70 264.95H343.70"/>
</g>
<g font-family="Liberation Sans, sans-serif" font-size="13.5" fill="#000" text-anchor="end" stroke="#000" stroke-width="0.2">
<text x="42.5" y="209.20">0</text>
<text x="42.5" y="146.32">40</text>
<text x="42.5" y="83.43">80</text>
<text x="42.5" y="20.55">120</text>
<text x="42.5" y="422.80">0</text>
<text x="42.5" y="378.90">40</text>
<text x="42.5" y="335.00">80</text>
<text x="42.5" y="291.10">120</text>
<text x="42.5" y="247.20">160</text>
</g>
<g font-family="Liberation Sans, sans-serif" font-size="13.5" fill="#000" text-anchor="middle" stroke="#000" stroke-width="0.2">
<text x="47.10" y="455.6">-45</text>
<text x="96.87" y="455.6">0</text>
<text x="146.63" y="455.6">45</text>
<text x="196.40" y="455.6">90</text>
<text x="246.17" y="455.6">135</text>
<text x="295.93" y="455.6">180</text>
<text x="345.70" y="455.6">225</text>
</g>
<text font-family="Liberation Sans, sans-serif" font-size="17.8" x="161.6" y="484" fill="#000" stroke="#000" stroke-width="0.2">&#966;</text>
<text font-family="Liberation Sans, sans-serif" font-size="11.6" font-style="italic" x="172.4" y="487.8" fill="#000" stroke="#000" stroke-width="0.2">H</text>
<text font-family="Liberation Sans, sans-serif" font-size="17.3" x="185.5" y="483.6" fill="#000" stroke="#000" stroke-width="0.2">(deg.)</text>
<text font-family="Liberation Sans, sans-serif" font-size="17" letter-spacing="0.3" fill="#000" text-anchor="middle" transform="translate(13.8 111.05) rotate(-90)" stroke="#000" stroke-width="0.2">&#916;H (Oe)</text>
<text font-family="Liberation Sans, sans-serif" font-size="17" letter-spacing="0.3" fill="#000" text-anchor="middle" transform="translate(13.8 330.50) rotate(-90)" stroke="#000" stroke-width="0.2">&#916;H (Oe)</text>
<g stroke-width="0.3">
<g font-family="Liberation Sans, sans-serif" font-size="14" fill="#1d5a2a" text-anchor="middle" stroke="#1d5a2a" stroke-width="0.2">
<text x="96.07" y="17.70">[100]</text>
<text x="145.83" y="17.70">[110]</text>
<text x="195.60" y="17.70">[010]</text>
<text x="245.37" y="17.70">[110]</text>
</g>
<rect x="234.39" y="6.50" width="6.88" height="1.25" fill="#1d5a2a"/>
<text font-family="Liberation Sans, sans-serif" font-size="13.4" x="75.5" y="34.40" fill="#000" stroke="#000" stroke-width="0.2">Pd/Fe</text>
<g font-family="Liberation Sans, sans-serif" font-size="15" fill="#000" stroke="#000" stroke-width="0.2"><text x="169.4" y="35.90" font-style="italic">f</text><text x="178.6" y="35.90">=13.4</text><text x="222.3" y="35.90">GHz</text></g>
<path d="M292.90 4.10L297.50 8.70L292.90 13.30L288.30 8.70Z" fill="none" stroke="#ff0000" stroke-width="1.4"/>
<path d="M277.80 25.50H307.70" stroke="#ff0000" stroke-width="2.9" stroke-linecap="round"/>
<text font-family="Liberation Sans, sans-serif" font-size="13.4" x="311.4" y="13.40" fill="#000" stroke="#000" stroke-width="0.2">data</text>
<text font-family="Liberation Sans, sans-serif" font-size="13.7" x="311.2" y="29.60" fill="#000" stroke="#000" stroke-width="0.2">fitting</text>
<text font-family="Liberation Sans, sans-serif" font-size="13.4" x="286.1" y="131.2" fill="#004018" stroke="#004018" stroke-width="0.2">Gilbert</text><text font-family="Liberation Sans, sans-serif" font-size="13.9" x="49.4" y="177.6" fill="#5a8c10" stroke="#5a8c10" stroke-width="0.2">mosaicity</text><text font-family="Liberation Sans, sans-serif" font-size="16.8" x="322.6" y="216" fill="#000" stroke="#000" stroke-width="0.2">(a)</text>
<g font-family="Liberation Sans, sans-serif" font-size="14" fill="#1d5a2a" text-anchor="middle" stroke="#1d5a2a" stroke-width="0.2">
<text x="96.07" y="238.30">[100]</text>
<text x="145.83" y="238.30">[110]</text>
<text x="195.60" y="238.30">[010]</text>
<text x="245.37" y="238.30">[110]</text>
</g>
<rect x="234.39" y="225.40" width="6.88" height="1.25" fill="#1d5a2a"/>
<text font-family="Liberation Sans, sans-serif" font-size="14.0" x="75.5" y="254.00" fill="#000" stroke="#000" stroke-width="0.2">Cu/Fe</text>
<g font-family="Liberation Sans, sans-serif" font-size="15" fill="#000" stroke="#000" stroke-width="0.2"><text x="169.4" y="256.10" font-style="italic">f</text><text x="178.6" y="256.10">=13.4</text><text x="222.3" y="256.10">GHz</text></g>
<path d="M295.60 225.30L300.20 229.90L295.60 234.50L291.00 229.90Z" fill="none" stroke="#ff0000" stroke-width="1.4"/>
<path d="M283.50 246.70H307.50" stroke="#ff0000" stroke-width="2.9" stroke-linecap="round"/>
<text font-family="Liberation Sans, sans-serif" font-size="13.4" x="311.4" y="234.00" fill="#000" stroke="#000" stroke-width="0.2">data</text>
<text font-family="Liberation Sans, sans-serif" font-size="13.7" x="311.2" y="250.80" fill="#000" stroke="#000" stroke-width="0.2">fitting</text>
<text font-family="Liberation Sans, sans-serif" font-size="13.4" x="71.0" y="355.2" fill="#004018" stroke="#004018" stroke-width="0.2">Gilbert</text><text font-family="Liberation Sans, sans-serif" font-size="13.6" x="51.5" y="383.9" fill="#5a8c10" stroke="#5a8c10" stroke-width="0.2">mosaicity</text><text font-family="Liberation Sans, sans-serif" font-size="13" x="50.3" y="429.5" fill="#b8c410" stroke="#b8c410" stroke-width="0.2">TMS</text><text font-family="Liberation Sans, sans-serif" font-size="16.8" x="322.8" y="435.5" fill="#000" stroke="#000" stroke-width="0.2">(b)</text>
</g>
</svg>
</body></html>
